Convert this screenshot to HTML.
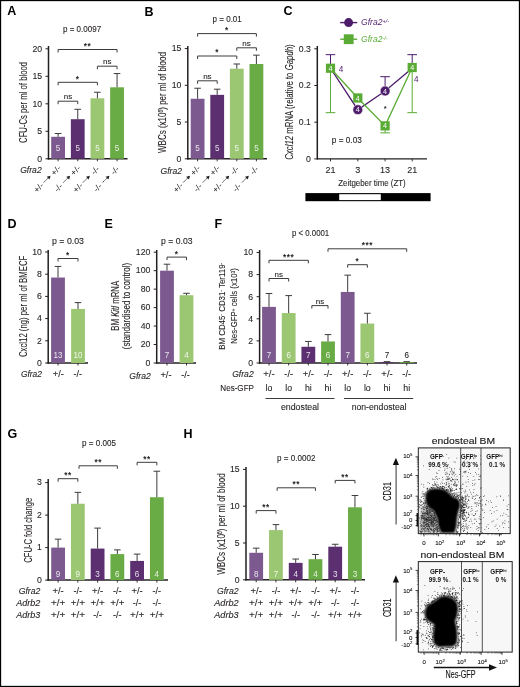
<!DOCTYPE html>
<html><head><meta charset="utf-8"><style>
html,body{margin:0;padding:0;background:#fff;}
body{width:520px;height:687px;overflow:hidden;font-family:"Liberation Sans", sans-serif;}
svg{display:block;will-change:transform;}
</style></head><body>
<svg width="520" height="687" viewBox="0 0 520 687" font-family='"Liberation Sans", sans-serif'>
<rect x="0" y="0" width="520" height="687" fill="#fff"/>
<text x="7.30" y="15.20" font-size="12.5" text-anchor="start" fill="#000" font-weight="bold" >A</text>
<text x="82.05" y="31.60" font-size="8.2" text-anchor="middle" fill="#231f20" textLength="38.1" lengthAdjust="spacingAndGlyphs" stroke="#231f20" stroke-width="0.1" >p = 0.0097</text>
<line x1="48.50" y1="46.00" x2="48.50" y2="159.50" stroke="#231f20" stroke-width="1.5"/>
<line x1="45.50" y1="158.80" x2="48.50" y2="158.80" stroke="#231f20" stroke-width="1"/>
<text x="42.10" y="161.60" font-size="8.7" text-anchor="end" fill="#231f20" stroke="#231f20" stroke-width="0.1" >0</text>
<line x1="45.50" y1="131.30" x2="48.50" y2="131.30" stroke="#231f20" stroke-width="1"/>
<text x="42.10" y="134.10" font-size="8.7" text-anchor="end" fill="#231f20" stroke="#231f20" stroke-width="0.1" >5</text>
<line x1="45.50" y1="103.80" x2="48.50" y2="103.80" stroke="#231f20" stroke-width="1"/>
<text x="42.10" y="106.60" font-size="8.7" text-anchor="end" fill="#231f20" stroke="#231f20" stroke-width="0.1" >10</text>
<line x1="45.50" y1="76.30" x2="48.50" y2="76.30" stroke="#231f20" stroke-width="1"/>
<text x="42.10" y="79.10" font-size="8.7" text-anchor="end" fill="#231f20" stroke="#231f20" stroke-width="0.1" >15</text>
<line x1="45.50" y1="48.80" x2="48.50" y2="48.80" stroke="#231f20" stroke-width="1"/>
<text x="42.10" y="51.60" font-size="8.7" text-anchor="end" fill="#231f20" stroke="#231f20" stroke-width="0.1" >20</text>
<line x1="47.80" y1="158.80" x2="127.50" y2="158.80" stroke="#231f20" stroke-width="1.5"/>
<line x1="58.10" y1="158.80" x2="58.10" y2="161.30" stroke="#231f20" stroke-width="0.9"/>
<line x1="77.75" y1="158.80" x2="77.75" y2="161.30" stroke="#231f20" stroke-width="0.9"/>
<line x1="97.40" y1="158.80" x2="97.40" y2="161.30" stroke="#231f20" stroke-width="0.9"/>
<line x1="117.05" y1="158.80" x2="117.05" y2="161.30" stroke="#231f20" stroke-width="0.9"/>
<rect x="51.20" y="136.80" width="13.80" height="22.00" fill="#7c5a8f"/>
<line x1="58.10" y1="133.50" x2="58.10" y2="136.80" stroke="#3c3c3c" stroke-width="1"/>
<line x1="54.80" y1="133.50" x2="61.40" y2="133.50" stroke="#3c3c3c" stroke-width="1"/>
<text x="58.10" y="151.10" font-size="9.6" text-anchor="middle" fill="#fff" textLength="4.5" lengthAdjust="spacingAndGlyphs" fill-opacity="0.85" >5</text>
<rect x="70.85" y="119.20" width="13.80" height="39.60" fill="#5b2f70"/>
<line x1="77.75" y1="109.30" x2="77.75" y2="119.20" stroke="#3c3c3c" stroke-width="1"/>
<line x1="74.45" y1="109.30" x2="81.05" y2="109.30" stroke="#3c3c3c" stroke-width="1"/>
<text x="77.75" y="151.10" font-size="9.6" text-anchor="middle" fill="#fff" textLength="4.5" lengthAdjust="spacingAndGlyphs" fill-opacity="0.85" >5</text>
<rect x="90.50" y="98.30" width="13.80" height="60.50" fill="#9bc672"/>
<line x1="97.40" y1="92.25" x2="97.40" y2="98.30" stroke="#3c3c3c" stroke-width="1"/>
<line x1="94.10" y1="92.25" x2="100.70" y2="92.25" stroke="#3c3c3c" stroke-width="1"/>
<text x="97.40" y="151.10" font-size="9.6" text-anchor="middle" fill="#fff" textLength="4.5" lengthAdjust="spacingAndGlyphs" fill-opacity="0.85" >5</text>
<rect x="110.15" y="87.30" width="13.80" height="71.50" fill="#69ab44"/>
<line x1="117.05" y1="73.55" x2="117.05" y2="87.30" stroke="#3c3c3c" stroke-width="1"/>
<line x1="113.75" y1="73.55" x2="120.35" y2="73.55" stroke="#3c3c3c" stroke-width="1"/>
<text x="117.05" y="151.10" font-size="9.6" text-anchor="middle" fill="#fff" textLength="4.5" lengthAdjust="spacingAndGlyphs" fill-opacity="0.85" >5</text>
<path d="M58.10 52.50V49.50H117.05V52.50" fill="none" stroke="#3c3c3c" stroke-width="1"/>
<text x="87.58" y="48.90" font-size="8.2" text-anchor="middle" fill="#231f20" font-weight="bold" letter-spacing="0.6">**</text>
<path d="M97.40 69.20V66.20H117.05V69.20" fill="none" stroke="#3c3c3c" stroke-width="1"/>
<text x="107.22" y="64.30" font-size="8" text-anchor="middle" fill="#231f20" stroke="#231f20" stroke-width="0.1" >ns</text>
<path d="M58.10 85.30V82.30H97.40V85.30" fill="none" stroke="#3c3c3c" stroke-width="1"/>
<text x="77.75" y="81.70" font-size="8.2" text-anchor="middle" fill="#231f20" font-weight="bold" letter-spacing="0.6">*</text>
<path d="M58.10 104.20V101.20H77.75V104.20" fill="none" stroke="#3c3c3c" stroke-width="1"/>
<text x="67.92" y="99.30" font-size="8" text-anchor="middle" fill="#231f20" stroke="#231f20" stroke-width="0.1" >ns</text>
<text x="26.90" y="102.45" font-size="10" text-anchor="middle" fill="#231f20" textLength="80.9" lengthAdjust="spacingAndGlyphs" stroke="#231f20" stroke-width="0.1" transform="rotate(-90 26.90 102.45)" >CFU-Cs per ml of blood</text>
<text x="41.70" y="172.90" font-size="8.6" text-anchor="end" fill="#231f20" font-style="italic" stroke="#231f20" stroke-width="0.1" >Gfra2</text>
<g transform="translate(35.80 190.40) rotate(-45)">
<text x="4" y="2.9" font-size="8.4" text-anchor="middle" fill="#231f20" textLength="10.5" lengthAdjust="spacingAndGlyphs">+/-</text>
<line x1="11.2" y1="0" x2="18.5" y2="0" stroke="#231f20" stroke-width="0.85" stroke-dasharray="1.8 0.8"/>
<path d="M17.4 -2L20.8 0L17.4 2Z" fill="#231f20"/>
<text x="28.3" y="2.9" font-size="8.4" text-anchor="middle" fill="#231f20" textLength="10.5" lengthAdjust="spacingAndGlyphs">+/-</text>
</g>
<g transform="translate(55.45 190.40) rotate(-45)">
<text x="4" y="2.9" font-size="8.4" text-anchor="middle" fill="#231f20" textLength="8.2" lengthAdjust="spacingAndGlyphs">-/-</text>
<line x1="11.2" y1="0" x2="18.5" y2="0" stroke="#231f20" stroke-width="0.85" stroke-dasharray="1.8 0.8"/>
<path d="M17.4 -2L20.8 0L17.4 2Z" fill="#231f20"/>
<text x="28.3" y="2.9" font-size="8.4" text-anchor="middle" fill="#231f20" textLength="10.5" lengthAdjust="spacingAndGlyphs">+/-</text>
</g>
<g transform="translate(75.10 190.40) rotate(-45)">
<text x="4" y="2.9" font-size="8.4" text-anchor="middle" fill="#231f20" textLength="10.5" lengthAdjust="spacingAndGlyphs">+/-</text>
<line x1="11.2" y1="0" x2="18.5" y2="0" stroke="#231f20" stroke-width="0.85" stroke-dasharray="1.8 0.8"/>
<path d="M17.4 -2L20.8 0L17.4 2Z" fill="#231f20"/>
<text x="28.3" y="2.9" font-size="8.4" text-anchor="middle" fill="#231f20" textLength="8.2" lengthAdjust="spacingAndGlyphs">-/-</text>
</g>
<g transform="translate(94.75 190.40) rotate(-45)">
<text x="4" y="2.9" font-size="8.4" text-anchor="middle" fill="#231f20" textLength="8.2" lengthAdjust="spacingAndGlyphs">-/-</text>
<line x1="11.2" y1="0" x2="18.5" y2="0" stroke="#231f20" stroke-width="0.85" stroke-dasharray="1.8 0.8"/>
<path d="M17.4 -2L20.8 0L17.4 2Z" fill="#231f20"/>
<text x="28.3" y="2.9" font-size="8.4" text-anchor="middle" fill="#231f20" textLength="8.2" lengthAdjust="spacingAndGlyphs">-/-</text>
</g>
<text x="144.60" y="15.50" font-size="12.5" text-anchor="start" fill="#000" font-weight="bold" >B</text>
<text x="227.20" y="21.60" font-size="8.2" text-anchor="middle" fill="#231f20" textLength="29.2" lengthAdjust="spacingAndGlyphs" stroke="#231f20" stroke-width="0.1" >p = 0.01</text>
<line x1="187.80" y1="46.00" x2="187.80" y2="159.50" stroke="#231f20" stroke-width="1.5"/>
<line x1="184.80" y1="158.80" x2="187.80" y2="158.80" stroke="#231f20" stroke-width="1"/>
<text x="181.40" y="161.60" font-size="8.7" text-anchor="end" fill="#231f20" stroke="#231f20" stroke-width="0.1" >0</text>
<line x1="184.80" y1="122.05" x2="187.80" y2="122.05" stroke="#231f20" stroke-width="1"/>
<text x="181.40" y="124.85" font-size="8.7" text-anchor="end" fill="#231f20" stroke="#231f20" stroke-width="0.1" >5</text>
<line x1="184.80" y1="85.30" x2="187.80" y2="85.30" stroke="#231f20" stroke-width="1"/>
<text x="181.40" y="88.10" font-size="8.7" text-anchor="end" fill="#231f20" stroke="#231f20" stroke-width="0.1" >10</text>
<line x1="184.80" y1="48.55" x2="187.80" y2="48.55" stroke="#231f20" stroke-width="1"/>
<text x="181.40" y="51.35" font-size="8.7" text-anchor="end" fill="#231f20" stroke="#231f20" stroke-width="0.1" >15</text>
<line x1="187.10" y1="158.80" x2="267.00" y2="158.80" stroke="#231f20" stroke-width="1.5"/>
<line x1="197.60" y1="158.80" x2="197.60" y2="161.30" stroke="#231f20" stroke-width="0.9"/>
<line x1="217.20" y1="158.80" x2="217.20" y2="161.30" stroke="#231f20" stroke-width="0.9"/>
<line x1="236.80" y1="158.80" x2="236.80" y2="161.30" stroke="#231f20" stroke-width="0.9"/>
<line x1="256.40" y1="158.80" x2="256.40" y2="161.30" stroke="#231f20" stroke-width="0.9"/>
<rect x="190.70" y="98.75" width="13.80" height="60.05" fill="#7c5a8f"/>
<line x1="197.60" y1="88.24" x2="197.60" y2="98.75" stroke="#3c3c3c" stroke-width="1"/>
<line x1="194.30" y1="88.24" x2="200.90" y2="88.24" stroke="#3c3c3c" stroke-width="1"/>
<text x="197.60" y="151.10" font-size="9.6" text-anchor="middle" fill="#fff" textLength="4.5" lengthAdjust="spacingAndGlyphs" fill-opacity="0.85" >5</text>
<rect x="210.30" y="94.86" width="13.80" height="63.94" fill="#5b2f70"/>
<line x1="217.20" y1="89.20" x2="217.20" y2="94.86" stroke="#3c3c3c" stroke-width="1"/>
<line x1="213.90" y1="89.20" x2="220.50" y2="89.20" stroke="#3c3c3c" stroke-width="1"/>
<text x="217.20" y="151.10" font-size="9.6" text-anchor="middle" fill="#fff" textLength="4.5" lengthAdjust="spacingAndGlyphs" fill-opacity="0.85" >5</text>
<rect x="229.90" y="68.69" width="13.80" height="90.11" fill="#9bc672"/>
<line x1="236.80" y1="63.99" x2="236.80" y2="68.69" stroke="#3c3c3c" stroke-width="1"/>
<line x1="233.50" y1="63.99" x2="240.10" y2="63.99" stroke="#3c3c3c" stroke-width="1"/>
<text x="236.80" y="151.10" font-size="9.6" text-anchor="middle" fill="#fff" textLength="4.5" lengthAdjust="spacingAndGlyphs" fill-opacity="0.85" >5</text>
<rect x="249.50" y="63.99" width="13.80" height="94.81" fill="#69ab44"/>
<line x1="256.40" y1="55.17" x2="256.40" y2="63.99" stroke="#3c3c3c" stroke-width="1"/>
<line x1="253.10" y1="55.17" x2="259.70" y2="55.17" stroke="#3c3c3c" stroke-width="1"/>
<text x="256.40" y="151.10" font-size="9.6" text-anchor="middle" fill="#fff" textLength="4.5" lengthAdjust="spacingAndGlyphs" fill-opacity="0.85" >5</text>
<path d="M197.60 36.60V33.60H256.40V36.60" fill="none" stroke="#3c3c3c" stroke-width="1"/>
<text x="227.00" y="33.00" font-size="8.2" text-anchor="middle" fill="#231f20" font-weight="bold" letter-spacing="0.6">*</text>
<path d="M236.80 50.80V47.80H256.40V50.80" fill="none" stroke="#3c3c3c" stroke-width="1"/>
<text x="246.60" y="45.90" font-size="8" text-anchor="middle" fill="#231f20" stroke="#231f20" stroke-width="0.1" >ns</text>
<path d="M197.60 59.00V56.00H236.80V59.00" fill="none" stroke="#3c3c3c" stroke-width="1"/>
<text x="217.20" y="55.40" font-size="8.2" text-anchor="middle" fill="#231f20" font-weight="bold" letter-spacing="0.6">*</text>
<path d="M197.60 83.80V80.80H217.20V83.80" fill="none" stroke="#3c3c3c" stroke-width="1"/>
<text x="207.40" y="78.90" font-size="8" text-anchor="middle" fill="#231f20" stroke="#231f20" stroke-width="0.1" >ns</text>
<text x="166.00" y="102.50" font-size="10" text-anchor="middle" fill="#231f20" textLength="100.8" lengthAdjust="spacingAndGlyphs" stroke="#231f20" stroke-width="0.1" transform="rotate(-90 166.00 102.50)" >WBCs (x10<tspan dy="-3" font-size="6.5">6</tspan><tspan dy="3">) per ml of blood</tspan></text>
<text x="182.00" y="173.90" font-size="8.6" text-anchor="end" fill="#231f20" font-style="italic" stroke="#231f20" stroke-width="0.1" >Gfra2</text>
<g transform="translate(175.30 190.40) rotate(-45)">
<text x="4" y="2.9" font-size="8.4" text-anchor="middle" fill="#231f20" textLength="10.5" lengthAdjust="spacingAndGlyphs">+/-</text>
<line x1="11.2" y1="0" x2="18.5" y2="0" stroke="#231f20" stroke-width="0.85" stroke-dasharray="1.8 0.8"/>
<path d="M17.4 -2L20.8 0L17.4 2Z" fill="#231f20"/>
<text x="28.3" y="2.9" font-size="8.4" text-anchor="middle" fill="#231f20" textLength="10.5" lengthAdjust="spacingAndGlyphs">+/-</text>
</g>
<g transform="translate(194.90 190.40) rotate(-45)">
<text x="4" y="2.9" font-size="8.4" text-anchor="middle" fill="#231f20" textLength="8.2" lengthAdjust="spacingAndGlyphs">-/-</text>
<line x1="11.2" y1="0" x2="18.5" y2="0" stroke="#231f20" stroke-width="0.85" stroke-dasharray="1.8 0.8"/>
<path d="M17.4 -2L20.8 0L17.4 2Z" fill="#231f20"/>
<text x="28.3" y="2.9" font-size="8.4" text-anchor="middle" fill="#231f20" textLength="10.5" lengthAdjust="spacingAndGlyphs">+/-</text>
</g>
<g transform="translate(214.50 190.40) rotate(-45)">
<text x="4" y="2.9" font-size="8.4" text-anchor="middle" fill="#231f20" textLength="10.5" lengthAdjust="spacingAndGlyphs">+/-</text>
<line x1="11.2" y1="0" x2="18.5" y2="0" stroke="#231f20" stroke-width="0.85" stroke-dasharray="1.8 0.8"/>
<path d="M17.4 -2L20.8 0L17.4 2Z" fill="#231f20"/>
<text x="28.3" y="2.9" font-size="8.4" text-anchor="middle" fill="#231f20" textLength="8.2" lengthAdjust="spacingAndGlyphs">-/-</text>
</g>
<g transform="translate(234.10 190.40) rotate(-45)">
<text x="4" y="2.9" font-size="8.4" text-anchor="middle" fill="#231f20" textLength="8.2" lengthAdjust="spacingAndGlyphs">-/-</text>
<line x1="11.2" y1="0" x2="18.5" y2="0" stroke="#231f20" stroke-width="0.85" stroke-dasharray="1.8 0.8"/>
<path d="M17.4 -2L20.8 0L17.4 2Z" fill="#231f20"/>
<text x="28.3" y="2.9" font-size="8.4" text-anchor="middle" fill="#231f20" textLength="8.2" lengthAdjust="spacingAndGlyphs">-/-</text>
</g>
<text x="283.60" y="15.30" font-size="12.5" text-anchor="start" fill="#000" font-weight="bold" >C</text>
<line x1="317.30" y1="46.00" x2="317.30" y2="159.60" stroke="#231f20" stroke-width="1.5"/>
<line x1="314.30" y1="158.90" x2="317.30" y2="158.90" stroke="#231f20" stroke-width="1"/>
<text x="310.90" y="161.70" font-size="8.7" text-anchor="end" fill="#231f20" stroke="#231f20" stroke-width="0.1" >0</text>
<line x1="314.30" y1="122.20" x2="317.30" y2="122.20" stroke="#231f20" stroke-width="1"/>
<text x="310.90" y="125.00" font-size="8.7" text-anchor="end" fill="#231f20" stroke="#231f20" stroke-width="0.1" >0.1</text>
<line x1="314.30" y1="85.50" x2="317.30" y2="85.50" stroke="#231f20" stroke-width="1"/>
<text x="310.90" y="88.30" font-size="8.7" text-anchor="end" fill="#231f20" stroke="#231f20" stroke-width="0.1" >0.2</text>
<line x1="314.30" y1="48.80" x2="317.30" y2="48.80" stroke="#231f20" stroke-width="1"/>
<text x="310.90" y="51.60" font-size="8.7" text-anchor="end" fill="#231f20" stroke="#231f20" stroke-width="0.1" >0.3</text>
<line x1="317.30" y1="158.90" x2="427.00" y2="158.90" stroke="#231f20" stroke-width="1.2"/>
<line x1="330.50" y1="158.90" x2="330.50" y2="161.40" stroke="#231f20" stroke-width="0.9"/>
<line x1="357.80" y1="158.90" x2="357.80" y2="161.40" stroke="#231f20" stroke-width="0.9"/>
<line x1="385.10" y1="158.90" x2="385.10" y2="161.40" stroke="#231f20" stroke-width="0.9"/>
<line x1="412.20" y1="158.90" x2="412.20" y2="161.40" stroke="#231f20" stroke-width="0.9"/>
<text x="330.50" y="173.00" font-size="9" text-anchor="middle" fill="#231f20" stroke="#231f20" stroke-width="0.1" >21</text>
<text x="357.80" y="173.00" font-size="9" text-anchor="middle" fill="#231f20" stroke="#231f20" stroke-width="0.1" >3</text>
<text x="385.10" y="173.00" font-size="9" text-anchor="middle" fill="#231f20" stroke="#231f20" stroke-width="0.1" >13</text>
<text x="412.20" y="173.00" font-size="9" text-anchor="middle" fill="#231f20" stroke="#231f20" stroke-width="0.1" >21</text>
<text x="372.00" y="186.40" font-size="9" text-anchor="middle" fill="#231f20" textLength="67.5" lengthAdjust="spacingAndGlyphs" stroke="#231f20" stroke-width="0.1" >Zeitgeber time (ZT)</text>
<rect x="305.40" y="193.10" width="125.20" height="8.10" fill="#000"/>
<rect x="339.20" y="194.20" width="41.60" height="5.90" fill="#fff"/>
<text x="346.80" y="143.10" font-size="8.2" text-anchor="middle" fill="#231f20" textLength="30" lengthAdjust="spacingAndGlyphs" stroke="#231f20" stroke-width="0.1" >p = 0.03</text>
<text x="385.10" y="110.80" font-size="7.5" text-anchor="middle" fill="#231f20" font-weight="bold" >*</text>
<line x1="330.50" y1="112.66" x2="330.50" y2="68.25" stroke="#5aab35" stroke-width="1"/>
<line x1="325.70" y1="112.66" x2="335.30" y2="112.66" stroke="#5aab35" stroke-width="1"/>
<line x1="412.20" y1="112.66" x2="412.20" y2="67.52" stroke="#5aab35" stroke-width="1"/>
<line x1="407.40" y1="112.66" x2="417.00" y2="112.66" stroke="#5aab35" stroke-width="1"/>
<line x1="385.10" y1="132.84" x2="385.10" y2="125.87" stroke="#5aab35" stroke-width="1"/>
<line x1="380.30" y1="132.84" x2="389.90" y2="132.84" stroke="#5aab35" stroke-width="1"/>
<line x1="330.50" y1="54.67" x2="330.50" y2="68.25" stroke="#4d1c6b" stroke-width="1"/>
<line x1="325.70" y1="54.67" x2="335.30" y2="54.67" stroke="#4d1c6b" stroke-width="1"/>
<line x1="412.20" y1="54.67" x2="412.20" y2="68.25" stroke="#4d1c6b" stroke-width="1"/>
<line x1="407.40" y1="54.67" x2="417.00" y2="54.67" stroke="#4d1c6b" stroke-width="1"/>
<line x1="385.10" y1="76.69" x2="385.10" y2="91.01" stroke="#4d1c6b" stroke-width="1"/>
<line x1="380.30" y1="76.69" x2="389.90" y2="76.69" stroke="#4d1c6b" stroke-width="1"/>
<polyline points="330.50,68.25 357.80,109.72 385.10,91.01 412.20,68.25" fill="none" stroke="#4d1c6b" stroke-width="1.3"/>
<polyline points="330.50,68.25 357.80,97.98 385.10,125.87 412.20,67.52" fill="none" stroke="#5aab35" stroke-width="1.3"/>
<circle cx="357.80" cy="109.72" r="4.9" fill="#4d1c6b" stroke="#fff" stroke-width="0.5"/>
<text x="357.80" y="112.32" font-size="7.2" text-anchor="middle" fill="#fff" >4</text>
<circle cx="385.10" cy="91.01" r="4.9" fill="#4d1c6b" stroke="#fff" stroke-width="0.5"/>
<text x="385.10" y="93.61" font-size="7.2" text-anchor="middle" fill="#fff" >4</text>
<rect x="325.90" y="63.65" width="9.20" height="9.20" fill="#5aab35"/>
<text x="330.50" y="70.85" font-size="7.2" text-anchor="middle" fill="#fff" >4</text>
<rect x="353.20" y="93.38" width="9.20" height="9.20" fill="#5aab35"/>
<text x="357.80" y="100.58" font-size="7.2" text-anchor="middle" fill="#fff" >4</text>
<rect x="380.50" y="121.27" width="9.20" height="9.20" fill="#5aab35"/>
<text x="385.10" y="128.47" font-size="7.2" text-anchor="middle" fill="#fff" >4</text>
<rect x="407.60" y="62.92" width="9.20" height="9.20" fill="#5aab35"/>
<text x="412.20" y="70.12" font-size="7.2" text-anchor="middle" fill="#fff" >4</text>
<text x="341.00" y="72.00" font-size="8.2" text-anchor="middle" fill="#4d1c6b" >4</text>
<text x="416.40" y="81.90" font-size="8.2" text-anchor="middle" fill="#4d1c6b" >4</text>
<line x1="340.20" y1="22.60" x2="357.20" y2="22.60" stroke="#4d1c6b" stroke-width="1.4"/>
<circle cx="348.6" cy="22.6" r="4.5" fill="#4d1c6b"/>
<text x="361.00" y="25.40" font-size="8.6" text-anchor="start" fill="#4d1c6b" font-style="italic" >Gfra2<tspan dy="-2.8" font-size="5.4">+/-</tspan></text>
<line x1="340.20" y1="39.20" x2="357.20" y2="39.20" stroke="#5aab35" stroke-width="1.4"/>
<rect x="343.80" y="34.30" width="9.80" height="9.80" fill="#5aab35"/>
<text x="361.00" y="42.30" font-size="8.6" text-anchor="start" fill="#5aab35" font-style="italic" >Gfra2<tspan dy="-2.8" font-size="5.4">-/-</tspan></text>
<text x="293.10" y="102.05" font-size="10" text-anchor="middle" fill="#231f20" textLength="115.5" lengthAdjust="spacingAndGlyphs" stroke="#231f20" stroke-width="0.1" transform="rotate(-90 293.10 102.05)" ><tspan font-style="italic">Cxcl12</tspan> mRNA (relative to <tspan font-style="italic">Gapdh</tspan>)</text>
<text x="7.50" y="228.00" font-size="12.5" text-anchor="start" fill="#000" font-weight="bold" >D</text>
<text x="68.00" y="243.90" font-size="8.2" text-anchor="middle" fill="#231f20" textLength="32" lengthAdjust="spacingAndGlyphs" stroke="#231f20" stroke-width="0.1" >p = 0.03</text>
<line x1="48.20" y1="250.00" x2="48.20" y2="363.70" stroke="#231f20" stroke-width="1.5"/>
<line x1="45.20" y1="363.00" x2="48.20" y2="363.00" stroke="#231f20" stroke-width="1"/>
<text x="41.80" y="365.80" font-size="8.7" text-anchor="end" fill="#231f20" stroke="#231f20" stroke-width="0.1" >0</text>
<line x1="45.20" y1="340.80" x2="48.20" y2="340.80" stroke="#231f20" stroke-width="1"/>
<text x="41.80" y="343.60" font-size="8.7" text-anchor="end" fill="#231f20" stroke="#231f20" stroke-width="0.1" >2</text>
<line x1="45.20" y1="318.60" x2="48.20" y2="318.60" stroke="#231f20" stroke-width="1"/>
<text x="41.80" y="321.40" font-size="8.7" text-anchor="end" fill="#231f20" stroke="#231f20" stroke-width="0.1" >4</text>
<line x1="45.20" y1="296.40" x2="48.20" y2="296.40" stroke="#231f20" stroke-width="1"/>
<text x="41.80" y="299.20" font-size="8.7" text-anchor="end" fill="#231f20" stroke="#231f20" stroke-width="0.1" >6</text>
<line x1="45.20" y1="274.20" x2="48.20" y2="274.20" stroke="#231f20" stroke-width="1"/>
<text x="41.80" y="277.00" font-size="8.7" text-anchor="end" fill="#231f20" stroke="#231f20" stroke-width="0.1" >8</text>
<line x1="45.20" y1="252.00" x2="48.20" y2="252.00" stroke="#231f20" stroke-width="1"/>
<text x="41.80" y="254.80" font-size="8.7" text-anchor="end" fill="#231f20" stroke="#231f20" stroke-width="0.1" >10</text>
<line x1="47.50" y1="363.00" x2="88.00" y2="363.00" stroke="#231f20" stroke-width="1.5"/>
<line x1="58.00" y1="363.00" x2="58.00" y2="365.50" stroke="#231f20" stroke-width="0.9"/>
<line x1="78.00" y1="363.00" x2="78.00" y2="365.50" stroke="#231f20" stroke-width="0.9"/>
<rect x="51.10" y="277.53" width="13.80" height="85.47" fill="#7c5a8f"/>
<line x1="58.00" y1="266.43" x2="58.00" y2="277.53" stroke="#3c3c3c" stroke-width="1"/>
<line x1="54.70" y1="266.43" x2="61.30" y2="266.43" stroke="#3c3c3c" stroke-width="1"/>
<text x="58.00" y="357.70" font-size="9.6" text-anchor="middle" fill="#fff" textLength="9.0" lengthAdjust="spacingAndGlyphs" fill-opacity="0.85" >13</text>
<rect x="71.10" y="308.94" width="13.80" height="54.06" fill="#9bc672"/>
<line x1="78.00" y1="302.62" x2="78.00" y2="308.94" stroke="#3c3c3c" stroke-width="1"/>
<line x1="74.70" y1="302.62" x2="81.30" y2="302.62" stroke="#3c3c3c" stroke-width="1"/>
<text x="78.00" y="357.70" font-size="9.6" text-anchor="middle" fill="#fff" textLength="9.0" lengthAdjust="spacingAndGlyphs" fill-opacity="0.85" >10</text>
<path d="M58.00 261.50V258.50H78.00V261.50" fill="none" stroke="#3c3c3c" stroke-width="1"/>
<text x="68.00" y="257.90" font-size="8.2" text-anchor="middle" fill="#231f20" font-weight="bold" letter-spacing="0.6">*</text>
<text x="26.60" y="306.40" font-size="10" text-anchor="middle" fill="#231f20" textLength="101.2" lengthAdjust="spacingAndGlyphs" stroke="#231f20" stroke-width="0.1" transform="rotate(-90 26.60 306.40)" >Cxcl12 (ng) per ml of BMECF</text>
<text x="41.90" y="376.80" font-size="8.6" text-anchor="end" fill="#231f20" font-style="italic" textLength="21" lengthAdjust="spacingAndGlyphs" stroke="#231f20" stroke-width="0.1" >Gfra2</text>
<text x="58.30" y="376.80" font-size="8.8" text-anchor="middle" fill="#231f20" textLength="11" lengthAdjust="spacingAndGlyphs" stroke="#231f20" stroke-width="0.1" >+/-</text>
<text x="77.80" y="376.80" font-size="8.8" text-anchor="middle" fill="#231f20" textLength="8.5" lengthAdjust="spacingAndGlyphs" stroke="#231f20" stroke-width="0.1" >-/-</text>
<text x="104.50" y="228.00" font-size="12.5" text-anchor="start" fill="#000" font-weight="bold" >E</text>
<text x="176.80" y="243.50" font-size="8.2" text-anchor="middle" fill="#231f20" textLength="31.5" lengthAdjust="spacingAndGlyphs" stroke="#231f20" stroke-width="0.1" >p = 0.03</text>
<line x1="156.70" y1="250.00" x2="156.70" y2="363.70" stroke="#231f20" stroke-width="1.5"/>
<line x1="153.70" y1="363.00" x2="156.70" y2="363.00" stroke="#231f20" stroke-width="1"/>
<text x="150.30" y="365.80" font-size="8.7" text-anchor="end" fill="#231f20" stroke="#231f20" stroke-width="0.1" >0</text>
<line x1="153.70" y1="344.53" x2="156.70" y2="344.53" stroke="#231f20" stroke-width="1"/>
<text x="150.30" y="347.33" font-size="8.7" text-anchor="end" fill="#231f20" stroke="#231f20" stroke-width="0.1" >20</text>
<line x1="153.70" y1="326.07" x2="156.70" y2="326.07" stroke="#231f20" stroke-width="1"/>
<text x="150.30" y="328.87" font-size="8.7" text-anchor="end" fill="#231f20" stroke="#231f20" stroke-width="0.1" >40</text>
<line x1="153.70" y1="307.60" x2="156.70" y2="307.60" stroke="#231f20" stroke-width="1"/>
<text x="150.30" y="310.40" font-size="8.7" text-anchor="end" fill="#231f20" stroke="#231f20" stroke-width="0.1" >60</text>
<line x1="153.70" y1="289.14" x2="156.70" y2="289.14" stroke="#231f20" stroke-width="1"/>
<text x="150.30" y="291.94" font-size="8.7" text-anchor="end" fill="#231f20" stroke="#231f20" stroke-width="0.1" >80</text>
<line x1="153.70" y1="270.67" x2="156.70" y2="270.67" stroke="#231f20" stroke-width="1"/>
<text x="150.30" y="273.47" font-size="8.7" text-anchor="end" fill="#231f20" stroke="#231f20" stroke-width="0.1" >100</text>
<line x1="153.70" y1="252.20" x2="156.70" y2="252.20" stroke="#231f20" stroke-width="1"/>
<text x="150.30" y="255.00" font-size="8.7" text-anchor="end" fill="#231f20" stroke="#231f20" stroke-width="0.1" >120</text>
<line x1="156.00" y1="363.00" x2="196.00" y2="363.00" stroke="#231f20" stroke-width="1.5"/>
<line x1="167.00" y1="363.00" x2="167.00" y2="365.50" stroke="#231f20" stroke-width="0.9"/>
<line x1="186.50" y1="363.00" x2="186.50" y2="365.50" stroke="#231f20" stroke-width="0.9"/>
<rect x="160.10" y="270.67" width="13.80" height="92.33" fill="#7c5a8f"/>
<line x1="167.00" y1="264.21" x2="167.00" y2="270.67" stroke="#3c3c3c" stroke-width="1"/>
<line x1="163.70" y1="264.21" x2="170.30" y2="264.21" stroke="#3c3c3c" stroke-width="1"/>
<text x="167.00" y="357.70" font-size="9.6" text-anchor="middle" fill="#fff" textLength="4.5" lengthAdjust="spacingAndGlyphs" fill-opacity="0.85" >7</text>
<rect x="179.60" y="295.23" width="13.80" height="67.77" fill="#9bc672"/>
<line x1="186.50" y1="293.29" x2="186.50" y2="295.23" stroke="#3c3c3c" stroke-width="1"/>
<line x1="183.20" y1="293.29" x2="189.80" y2="293.29" stroke="#3c3c3c" stroke-width="1"/>
<text x="186.50" y="357.70" font-size="9.6" text-anchor="middle" fill="#fff" textLength="4.5" lengthAdjust="spacingAndGlyphs" fill-opacity="0.85" >4</text>
<path d="M167.00 260.10V257.10H186.50V260.10" fill="none" stroke="#3c3c3c" stroke-width="1"/>
<text x="176.75" y="256.50" font-size="8.2" text-anchor="middle" fill="#231f20" font-weight="bold" letter-spacing="0.6">*</text>
<text x="118.80" y="305.75" font-size="10" text-anchor="middle" fill="#231f20" textLength="50" lengthAdjust="spacingAndGlyphs" stroke="#231f20" stroke-width="0.1" transform="rotate(-90 118.80 305.75)" >BM <tspan font-style="italic">Kitl</tspan> mRNA</text>
<text x="130.20" y="306.00" font-size="10" text-anchor="middle" fill="#231f20" textLength="86.5" lengthAdjust="spacingAndGlyphs" stroke="#231f20" stroke-width="0.1" transform="rotate(-90 130.20 306.00)" >(standardised to control)</text>
<text x="150.80" y="378.50" font-size="8.6" text-anchor="end" fill="#231f20" font-style="italic" stroke="#231f20" stroke-width="0.1" >Gfra2</text>
<text x="166.00" y="378.30" font-size="8.8" text-anchor="middle" fill="#231f20" textLength="11" lengthAdjust="spacingAndGlyphs" stroke="#231f20" stroke-width="0.1" >+/-</text>
<text x="185.50" y="378.30" font-size="8.8" text-anchor="middle" fill="#231f20" textLength="8.5" lengthAdjust="spacingAndGlyphs" stroke="#231f20" stroke-width="0.1" >-/-</text>
<text x="214.50" y="228.00" font-size="12.5" text-anchor="start" fill="#000" font-weight="bold" >F</text>
<text x="310.60" y="235.60" font-size="8.2" text-anchor="middle" fill="#231f20" textLength="37.2" lengthAdjust="spacingAndGlyphs" stroke="#231f20" stroke-width="0.1" >p &lt; 0.0001</text>
<line x1="259.60" y1="250.00" x2="259.60" y2="363.70" stroke="#231f20" stroke-width="1.5"/>
<line x1="256.60" y1="363.00" x2="259.60" y2="363.00" stroke="#231f20" stroke-width="1"/>
<text x="253.20" y="365.80" font-size="8.7" text-anchor="end" fill="#231f20" stroke="#231f20" stroke-width="0.1" >0</text>
<line x1="256.60" y1="340.90" x2="259.60" y2="340.90" stroke="#231f20" stroke-width="1"/>
<text x="253.20" y="343.70" font-size="8.7" text-anchor="end" fill="#231f20" stroke="#231f20" stroke-width="0.1" >2</text>
<line x1="256.60" y1="318.80" x2="259.60" y2="318.80" stroke="#231f20" stroke-width="1"/>
<text x="253.20" y="321.60" font-size="8.7" text-anchor="end" fill="#231f20" stroke="#231f20" stroke-width="0.1" >4</text>
<line x1="256.60" y1="296.70" x2="259.60" y2="296.70" stroke="#231f20" stroke-width="1"/>
<text x="253.20" y="299.50" font-size="8.7" text-anchor="end" fill="#231f20" stroke="#231f20" stroke-width="0.1" >6</text>
<line x1="256.60" y1="274.60" x2="259.60" y2="274.60" stroke="#231f20" stroke-width="1"/>
<text x="253.20" y="277.40" font-size="8.7" text-anchor="end" fill="#231f20" stroke="#231f20" stroke-width="0.1" >8</text>
<line x1="256.60" y1="252.50" x2="259.60" y2="252.50" stroke="#231f20" stroke-width="1"/>
<text x="253.20" y="255.30" font-size="8.7" text-anchor="end" fill="#231f20" stroke="#231f20" stroke-width="0.1" >10</text>
<line x1="258.90" y1="363.00" x2="417.00" y2="363.00" stroke="#231f20" stroke-width="1.5"/>
<line x1="269.00" y1="363.00" x2="269.00" y2="365.50" stroke="#231f20" stroke-width="0.9"/>
<line x1="288.67" y1="363.00" x2="288.67" y2="365.50" stroke="#231f20" stroke-width="0.9"/>
<line x1="308.34" y1="363.00" x2="308.34" y2="365.50" stroke="#231f20" stroke-width="0.9"/>
<line x1="328.01" y1="363.00" x2="328.01" y2="365.50" stroke="#231f20" stroke-width="0.9"/>
<line x1="347.68" y1="363.00" x2="347.68" y2="365.50" stroke="#231f20" stroke-width="0.9"/>
<line x1="367.35" y1="363.00" x2="367.35" y2="365.50" stroke="#231f20" stroke-width="0.9"/>
<line x1="387.02" y1="363.00" x2="387.02" y2="365.50" stroke="#231f20" stroke-width="0.9"/>
<line x1="406.69" y1="363.00" x2="406.69" y2="365.50" stroke="#231f20" stroke-width="0.9"/>
<rect x="262.10" y="306.87" width="13.80" height="56.13" fill="#7c5a8f"/>
<line x1="269.00" y1="293.50" x2="269.00" y2="306.87" stroke="#3c3c3c" stroke-width="1"/>
<line x1="265.70" y1="293.50" x2="272.30" y2="293.50" stroke="#3c3c3c" stroke-width="1"/>
<text x="269.00" y="357.70" font-size="9.6" text-anchor="middle" fill="#fff" textLength="4.5" lengthAdjust="spacingAndGlyphs" fill-opacity="0.85" >7</text>
<rect x="281.77" y="313.05" width="13.80" height="49.95" fill="#9bc672"/>
<line x1="288.67" y1="295.60" x2="288.67" y2="313.05" stroke="#3c3c3c" stroke-width="1"/>
<line x1="285.37" y1="295.60" x2="291.97" y2="295.60" stroke="#3c3c3c" stroke-width="1"/>
<text x="288.67" y="357.70" font-size="9.6" text-anchor="middle" fill="#fff" textLength="4.5" lengthAdjust="spacingAndGlyphs" fill-opacity="0.85" >6</text>
<rect x="301.44" y="346.76" width="13.80" height="16.24" fill="#5b2f70"/>
<line x1="308.34" y1="341.45" x2="308.34" y2="346.76" stroke="#3c3c3c" stroke-width="1"/>
<line x1="305.04" y1="341.45" x2="311.64" y2="341.45" stroke="#3c3c3c" stroke-width="1"/>
<text x="308.34" y="357.70" font-size="9.6" text-anchor="middle" fill="#fff" textLength="4.5" lengthAdjust="spacingAndGlyphs" fill-opacity="0.85" >7</text>
<rect x="321.11" y="341.45" width="13.80" height="21.55" fill="#69ab44"/>
<line x1="328.01" y1="334.60" x2="328.01" y2="341.45" stroke="#3c3c3c" stroke-width="1"/>
<line x1="324.71" y1="334.60" x2="331.31" y2="334.60" stroke="#3c3c3c" stroke-width="1"/>
<text x="328.01" y="357.70" font-size="9.6" text-anchor="middle" fill="#fff" textLength="4.5" lengthAdjust="spacingAndGlyphs" fill-opacity="0.85" >6</text>
<rect x="340.78" y="291.95" width="13.80" height="71.05" fill="#7c5a8f"/>
<line x1="347.68" y1="275.15" x2="347.68" y2="291.95" stroke="#3c3c3c" stroke-width="1"/>
<line x1="344.38" y1="275.15" x2="350.98" y2="275.15" stroke="#3c3c3c" stroke-width="1"/>
<text x="347.68" y="357.70" font-size="9.6" text-anchor="middle" fill="#fff" textLength="4.5" lengthAdjust="spacingAndGlyphs" fill-opacity="0.85" >7</text>
<rect x="360.45" y="323.55" width="13.80" height="39.45" fill="#9bc672"/>
<line x1="367.35" y1="313.27" x2="367.35" y2="323.55" stroke="#3c3c3c" stroke-width="1"/>
<line x1="364.05" y1="313.27" x2="370.65" y2="313.27" stroke="#3c3c3c" stroke-width="1"/>
<text x="367.35" y="357.70" font-size="9.6" text-anchor="middle" fill="#fff" textLength="4.5" lengthAdjust="spacingAndGlyphs" fill-opacity="0.85" >6</text>
<rect x="380.12" y="362.12" width="13.80" height="0.88" fill="#5b2f70"/>
<line x1="387.02" y1="361.67" x2="387.02" y2="362.12" stroke="#3c3c3c" stroke-width="1"/>
<line x1="383.72" y1="361.67" x2="390.32" y2="361.67" stroke="#3c3c3c" stroke-width="1"/>
<rect x="399.79" y="362.12" width="13.80" height="0.88" fill="#69ab44"/>
<line x1="406.69" y1="361.67" x2="406.69" y2="362.12" stroke="#3c3c3c" stroke-width="1"/>
<line x1="403.39" y1="361.67" x2="409.99" y2="361.67" stroke="#3c3c3c" stroke-width="1"/>
<text x="387.02" y="357.70" font-size="9.6" text-anchor="middle" fill="#231f20" textLength="4.5" lengthAdjust="spacingAndGlyphs" stroke="#231f20" stroke-width="0.1" >7</text>
<text x="406.69" y="357.70" font-size="9.6" text-anchor="middle" fill="#231f20" textLength="4.5" lengthAdjust="spacingAndGlyphs" stroke="#231f20" stroke-width="0.1" >6</text>
<path d="M269.00 263.30V260.30H308.34V263.30" fill="none" stroke="#3c3c3c" stroke-width="1"/>
<text x="288.67" y="259.70" font-size="8.2" text-anchor="middle" fill="#231f20" font-weight="bold" letter-spacing="0.6">***</text>
<path d="M269.00 281.50V278.50H288.67V281.50" fill="none" stroke="#3c3c3c" stroke-width="1"/>
<text x="278.84" y="276.60" font-size="8" text-anchor="middle" fill="#231f20" stroke="#231f20" stroke-width="0.1" >ns</text>
<path d="M311.84 308.60V305.60H328.01V308.60" fill="none" stroke="#3c3c3c" stroke-width="1"/>
<text x="319.93" y="303.70" font-size="8" text-anchor="middle" fill="#231f20" stroke="#231f20" stroke-width="0.1" >ns</text>
<path d="M328.01 251.80V248.80H406.69V251.80" fill="none" stroke="#3c3c3c" stroke-width="1"/>
<text x="367.35" y="248.20" font-size="8.2" text-anchor="middle" fill="#231f20" font-weight="bold" letter-spacing="0.6">***</text>
<path d="M347.68 267.70V264.70H367.35V267.70" fill="none" stroke="#3c3c3c" stroke-width="1"/>
<text x="357.51" y="264.10" font-size="8.2" text-anchor="middle" fill="#231f20" font-weight="bold" letter-spacing="0.6">*</text>
<text x="225.30" y="306.30" font-size="9.6" text-anchor="middle" fill="#231f20" textLength="87" lengthAdjust="spacingAndGlyphs" stroke="#231f20" stroke-width="0.1" transform="rotate(-90 225.30 306.30)" >BM CD45<tspan dy="-2.8" font-size="6">-</tspan><tspan dy="2.8"> CD31</tspan><tspan dy="-2.8" font-size="6">-</tspan><tspan dy="2.8"> Ter119</tspan><tspan dy="-2.8" font-size="6">-</tspan></text>
<text x="237.40" y="306.00" font-size="9.6" text-anchor="middle" fill="#231f20" textLength="75.5" lengthAdjust="spacingAndGlyphs" stroke="#231f20" stroke-width="0.1" transform="rotate(-90 237.40 306.00)" >Nes-GFP<tspan dy="-2.8" font-size="6">+</tspan><tspan dy="2.8"> cells (x10</tspan><tspan dy="-2.8" font-size="6">3</tspan><tspan dy="2.8">)</tspan></text>
<text x="253.70" y="377.00" font-size="8.6" text-anchor="end" fill="#231f20" font-style="italic" stroke="#231f20" stroke-width="0.1" >Gfra2</text>
<text x="254.00" y="390.80" font-size="8.8" text-anchor="end" fill="#231f20" textLength="33.7" lengthAdjust="spacingAndGlyphs" stroke="#231f20" stroke-width="0.1" >Nes-GFP</text>
<text x="269.00" y="376.80" font-size="8.8" text-anchor="middle" fill="#231f20" textLength="11.3" lengthAdjust="spacingAndGlyphs" stroke="#231f20" stroke-width="0.1" >+/-</text>
<text x="269.00" y="390.80" font-size="8.8" text-anchor="middle" fill="#231f20" stroke="#231f20" stroke-width="0.1" >lo</text>
<text x="288.67" y="376.80" font-size="8.8" text-anchor="middle" fill="#231f20" textLength="8.6" lengthAdjust="spacingAndGlyphs" stroke="#231f20" stroke-width="0.1" >-/-</text>
<text x="288.67" y="390.80" font-size="8.8" text-anchor="middle" fill="#231f20" stroke="#231f20" stroke-width="0.1" >lo</text>
<text x="308.34" y="376.80" font-size="8.8" text-anchor="middle" fill="#231f20" textLength="11.3" lengthAdjust="spacingAndGlyphs" stroke="#231f20" stroke-width="0.1" >+/-</text>
<text x="308.34" y="390.80" font-size="8.8" text-anchor="middle" fill="#231f20" stroke="#231f20" stroke-width="0.1" >hi</text>
<text x="328.01" y="376.80" font-size="8.8" text-anchor="middle" fill="#231f20" textLength="8.6" lengthAdjust="spacingAndGlyphs" stroke="#231f20" stroke-width="0.1" >-/-</text>
<text x="328.01" y="390.80" font-size="8.8" text-anchor="middle" fill="#231f20" stroke="#231f20" stroke-width="0.1" >hi</text>
<text x="347.68" y="376.80" font-size="8.8" text-anchor="middle" fill="#231f20" textLength="11.3" lengthAdjust="spacingAndGlyphs" stroke="#231f20" stroke-width="0.1" >+/-</text>
<text x="347.68" y="390.80" font-size="8.8" text-anchor="middle" fill="#231f20" stroke="#231f20" stroke-width="0.1" >lo</text>
<text x="367.35" y="376.80" font-size="8.8" text-anchor="middle" fill="#231f20" textLength="8.6" lengthAdjust="spacingAndGlyphs" stroke="#231f20" stroke-width="0.1" >-/-</text>
<text x="367.35" y="390.80" font-size="8.8" text-anchor="middle" fill="#231f20" stroke="#231f20" stroke-width="0.1" >lo</text>
<text x="387.02" y="376.80" font-size="8.8" text-anchor="middle" fill="#231f20" textLength="11.3" lengthAdjust="spacingAndGlyphs" stroke="#231f20" stroke-width="0.1" >+/-</text>
<text x="387.02" y="390.80" font-size="8.8" text-anchor="middle" fill="#231f20" stroke="#231f20" stroke-width="0.1" >hi</text>
<text x="406.69" y="376.80" font-size="8.8" text-anchor="middle" fill="#231f20" textLength="8.6" lengthAdjust="spacingAndGlyphs" stroke="#231f20" stroke-width="0.1" >-/-</text>
<text x="406.69" y="390.80" font-size="8.8" text-anchor="middle" fill="#231f20" stroke="#231f20" stroke-width="0.1" >hi</text>
<line x1="265.50" y1="398.50" x2="334.50" y2="398.50" stroke="#3c3c3c" stroke-width="1.1"/>
<line x1="344.00" y1="398.50" x2="413.20" y2="398.50" stroke="#3c3c3c" stroke-width="1.1"/>
<text x="300.00" y="409.60" font-size="8.9" text-anchor="middle" fill="#231f20" textLength="38.2" lengthAdjust="spacingAndGlyphs" stroke="#231f20" stroke-width="0.1" >endosteal</text>
<text x="379.10" y="409.60" font-size="8.9" text-anchor="middle" fill="#231f20" textLength="54.8" lengthAdjust="spacingAndGlyphs" stroke="#231f20" stroke-width="0.1" >non-endosteal</text>
<text x="7.60" y="437.70" font-size="12.5" text-anchor="start" fill="#000" font-weight="bold" >G</text>
<text x="99.00" y="445.70" font-size="8.2" text-anchor="middle" fill="#231f20" textLength="34" lengthAdjust="spacingAndGlyphs" stroke="#231f20" stroke-width="0.1" >p = 0.005</text>
<line x1="48.20" y1="479.00" x2="48.20" y2="580.80" stroke="#231f20" stroke-width="1.5"/>
<line x1="45.20" y1="580.10" x2="48.20" y2="580.10" stroke="#231f20" stroke-width="1"/>
<text x="41.80" y="582.90" font-size="8.7" text-anchor="end" fill="#231f20" stroke="#231f20" stroke-width="0.1" >0</text>
<line x1="45.20" y1="547.60" x2="48.20" y2="547.60" stroke="#231f20" stroke-width="1"/>
<text x="41.80" y="550.40" font-size="8.7" text-anchor="end" fill="#231f20" stroke="#231f20" stroke-width="0.1" >1</text>
<line x1="45.20" y1="515.10" x2="48.20" y2="515.10" stroke="#231f20" stroke-width="1"/>
<text x="41.80" y="517.90" font-size="8.7" text-anchor="end" fill="#231f20" stroke="#231f20" stroke-width="0.1" >2</text>
<line x1="45.20" y1="482.60" x2="48.20" y2="482.60" stroke="#231f20" stroke-width="1"/>
<text x="41.80" y="485.40" font-size="8.7" text-anchor="end" fill="#231f20" stroke="#231f20" stroke-width="0.1" >3</text>
<line x1="47.50" y1="580.10" x2="168.00" y2="580.10" stroke="#231f20" stroke-width="1.5"/>
<line x1="58.10" y1="580.10" x2="58.10" y2="582.60" stroke="#231f20" stroke-width="0.9"/>
<line x1="77.85" y1="580.10" x2="77.85" y2="582.60" stroke="#231f20" stroke-width="0.9"/>
<line x1="97.60" y1="580.10" x2="97.60" y2="582.60" stroke="#231f20" stroke-width="0.9"/>
<line x1="117.35" y1="580.10" x2="117.35" y2="582.60" stroke="#231f20" stroke-width="0.9"/>
<line x1="137.10" y1="580.10" x2="137.10" y2="582.60" stroke="#231f20" stroke-width="0.9"/>
<line x1="156.85" y1="580.10" x2="156.85" y2="582.60" stroke="#231f20" stroke-width="0.9"/>
<rect x="51.20" y="547.60" width="13.80" height="32.50" fill="#7c5a8f"/>
<line x1="58.10" y1="539.15" x2="58.10" y2="547.60" stroke="#3c3c3c" stroke-width="1"/>
<line x1="54.80" y1="539.15" x2="61.40" y2="539.15" stroke="#3c3c3c" stroke-width="1"/>
<text x="58.10" y="576.50" font-size="9.6" text-anchor="middle" fill="#fff" textLength="4.5" lengthAdjust="spacingAndGlyphs" fill-opacity="0.85" >9</text>
<rect x="70.95" y="503.73" width="13.80" height="76.38" fill="#9bc672"/>
<line x1="77.85" y1="492.35" x2="77.85" y2="503.73" stroke="#3c3c3c" stroke-width="1"/>
<line x1="74.55" y1="492.35" x2="81.15" y2="492.35" stroke="#3c3c3c" stroke-width="1"/>
<text x="77.85" y="576.50" font-size="9.6" text-anchor="middle" fill="#fff" textLength="4.5" lengthAdjust="spacingAndGlyphs" fill-opacity="0.85" >9</text>
<rect x="90.70" y="548.58" width="13.80" height="31.52" fill="#5b2f70"/>
<line x1="97.60" y1="528.10" x2="97.60" y2="548.58" stroke="#3c3c3c" stroke-width="1"/>
<line x1="94.30" y1="528.10" x2="100.90" y2="528.10" stroke="#3c3c3c" stroke-width="1"/>
<text x="97.60" y="576.50" font-size="9.6" text-anchor="middle" fill="#fff" textLength="4.5" lengthAdjust="spacingAndGlyphs" fill-opacity="0.85" >3</text>
<rect x="110.45" y="554.10" width="13.80" height="26.00" fill="#69ab44"/>
<line x1="117.35" y1="549.88" x2="117.35" y2="554.10" stroke="#3c3c3c" stroke-width="1"/>
<line x1="114.05" y1="549.88" x2="120.65" y2="549.88" stroke="#3c3c3c" stroke-width="1"/>
<text x="117.35" y="576.50" font-size="9.6" text-anchor="middle" fill="#fff" textLength="4.5" lengthAdjust="spacingAndGlyphs" fill-opacity="0.85" >6</text>
<rect x="130.20" y="560.93" width="13.80" height="19.17" fill="#5b2f70"/>
<line x1="137.10" y1="554.10" x2="137.10" y2="560.93" stroke="#3c3c3c" stroke-width="1"/>
<line x1="133.80" y1="554.10" x2="140.40" y2="554.10" stroke="#3c3c3c" stroke-width="1"/>
<text x="137.10" y="576.50" font-size="9.6" text-anchor="middle" fill="#fff" textLength="4.5" lengthAdjust="spacingAndGlyphs" fill-opacity="0.85" >6</text>
<rect x="149.95" y="497.23" width="13.80" height="82.88" fill="#69ab44"/>
<line x1="156.85" y1="471.23" x2="156.85" y2="497.23" stroke="#3c3c3c" stroke-width="1"/>
<line x1="153.55" y1="471.23" x2="160.15" y2="471.23" stroke="#3c3c3c" stroke-width="1"/>
<text x="156.85" y="576.50" font-size="9.6" text-anchor="middle" fill="#fff" textLength="4.5" lengthAdjust="spacingAndGlyphs" fill-opacity="0.85" >4</text>
<path d="M58.10 481.70V478.70H77.85V481.70" fill="none" stroke="#3c3c3c" stroke-width="1"/>
<text x="67.97" y="478.10" font-size="8.2" text-anchor="middle" fill="#231f20" font-weight="bold" letter-spacing="0.6">**</text>
<path d="M79.05 468.80V465.80H117.35V468.80" fill="none" stroke="#3c3c3c" stroke-width="1"/>
<text x="98.20" y="465.20" font-size="8.2" text-anchor="middle" fill="#231f20" font-weight="bold" letter-spacing="0.6">**</text>
<path d="M137.10 465.30V462.30H156.85V465.30" fill="none" stroke="#3c3c3c" stroke-width="1"/>
<text x="146.97" y="461.70" font-size="8.2" text-anchor="middle" fill="#231f20" font-weight="bold" letter-spacing="0.6">**</text>
<text x="31.70" y="530.30" font-size="10" text-anchor="middle" fill="#231f20" textLength="64.8" lengthAdjust="spacingAndGlyphs" stroke="#231f20" stroke-width="0.1" transform="rotate(-90 31.70 530.30)" >CFU-C fold change</text>
<text x="40.40" y="593.90" font-size="8.8" text-anchor="end" fill="#231f20" font-style="italic" textLength="21.7" lengthAdjust="spacingAndGlyphs" stroke="#231f20" stroke-width="0.1" >Gfra2</text>
<text x="58.10" y="593.90" font-size="8.8" text-anchor="middle" fill="#231f20" textLength="11.3" lengthAdjust="spacingAndGlyphs" stroke="#231f20" stroke-width="0.1" >+/-</text>
<text x="77.85" y="593.90" font-size="8.8" text-anchor="middle" fill="#231f20" textLength="8.6" lengthAdjust="spacingAndGlyphs" stroke="#231f20" stroke-width="0.1" >-/-</text>
<text x="97.60" y="593.90" font-size="8.8" text-anchor="middle" fill="#231f20" textLength="11.3" lengthAdjust="spacingAndGlyphs" stroke="#231f20" stroke-width="0.1" >+/-</text>
<text x="117.35" y="593.90" font-size="8.8" text-anchor="middle" fill="#231f20" textLength="8.6" lengthAdjust="spacingAndGlyphs" stroke="#231f20" stroke-width="0.1" >-/-</text>
<text x="137.10" y="593.90" font-size="8.8" text-anchor="middle" fill="#231f20" textLength="11.3" lengthAdjust="spacingAndGlyphs" stroke="#231f20" stroke-width="0.1" >+/-</text>
<text x="156.85" y="593.90" font-size="8.8" text-anchor="middle" fill="#231f20" textLength="8.6" lengthAdjust="spacingAndGlyphs" stroke="#231f20" stroke-width="0.1" >-/-</text>
<text x="40.40" y="606.10" font-size="8.8" text-anchor="end" fill="#231f20" font-style="italic" textLength="24.2" lengthAdjust="spacingAndGlyphs" stroke="#231f20" stroke-width="0.1" >Adrb2</text>
<text x="58.10" y="606.10" font-size="8.8" text-anchor="middle" fill="#231f20" textLength="14.3" lengthAdjust="spacingAndGlyphs" stroke="#231f20" stroke-width="0.1" >+/+</text>
<text x="77.85" y="606.10" font-size="8.8" text-anchor="middle" fill="#231f20" textLength="14.3" lengthAdjust="spacingAndGlyphs" stroke="#231f20" stroke-width="0.1" >+/+</text>
<text x="97.60" y="606.10" font-size="8.8" text-anchor="middle" fill="#231f20" textLength="14.3" lengthAdjust="spacingAndGlyphs" stroke="#231f20" stroke-width="0.1" >+/+</text>
<text x="117.35" y="606.10" font-size="8.8" text-anchor="middle" fill="#231f20" textLength="14.3" lengthAdjust="spacingAndGlyphs" stroke="#231f20" stroke-width="0.1" >+/+</text>
<text x="137.10" y="606.10" font-size="8.8" text-anchor="middle" fill="#231f20" textLength="8.6" lengthAdjust="spacingAndGlyphs" stroke="#231f20" stroke-width="0.1" >-/-</text>
<text x="156.85" y="606.10" font-size="8.8" text-anchor="middle" fill="#231f20" textLength="8.6" lengthAdjust="spacingAndGlyphs" stroke="#231f20" stroke-width="0.1" >-/-</text>
<text x="40.40" y="618.30" font-size="8.8" text-anchor="end" fill="#231f20" font-style="italic" textLength="24.2" lengthAdjust="spacingAndGlyphs" stroke="#231f20" stroke-width="0.1" >Adrb3</text>
<text x="58.10" y="618.30" font-size="8.8" text-anchor="middle" fill="#231f20" textLength="14.3" lengthAdjust="spacingAndGlyphs" stroke="#231f20" stroke-width="0.1" >+/+</text>
<text x="77.85" y="618.30" font-size="8.8" text-anchor="middle" fill="#231f20" textLength="14.3" lengthAdjust="spacingAndGlyphs" stroke="#231f20" stroke-width="0.1" >+/+</text>
<text x="97.60" y="618.30" font-size="8.8" text-anchor="middle" fill="#231f20" textLength="8.6" lengthAdjust="spacingAndGlyphs" stroke="#231f20" stroke-width="0.1" >-/-</text>
<text x="117.35" y="618.30" font-size="8.8" text-anchor="middle" fill="#231f20" textLength="8.6" lengthAdjust="spacingAndGlyphs" stroke="#231f20" stroke-width="0.1" >-/-</text>
<text x="137.10" y="618.30" font-size="8.8" text-anchor="middle" fill="#231f20" textLength="14.3" lengthAdjust="spacingAndGlyphs" stroke="#231f20" stroke-width="0.1" >+/+</text>
<text x="156.85" y="618.30" font-size="8.8" text-anchor="middle" fill="#231f20" textLength="14.3" lengthAdjust="spacingAndGlyphs" stroke="#231f20" stroke-width="0.1" >+/+</text>
<text x="183.60" y="437.60" font-size="12.5" text-anchor="start" fill="#000" font-weight="bold" >H</text>
<text x="296.30" y="461.00" font-size="8.2" text-anchor="middle" fill="#231f20" textLength="38.4" lengthAdjust="spacingAndGlyphs" stroke="#231f20" stroke-width="0.1" >p = 0.0002</text>
<line x1="246.00" y1="467.00" x2="246.00" y2="580.50" stroke="#231f20" stroke-width="1.5"/>
<line x1="243.00" y1="579.80" x2="246.00" y2="579.80" stroke="#231f20" stroke-width="1"/>
<text x="239.60" y="582.60" font-size="8.7" text-anchor="end" fill="#231f20" stroke="#231f20" stroke-width="0.1" >0</text>
<line x1="243.00" y1="543.00" x2="246.00" y2="543.00" stroke="#231f20" stroke-width="1"/>
<text x="239.60" y="545.80" font-size="8.7" text-anchor="end" fill="#231f20" stroke="#231f20" stroke-width="0.1" >5</text>
<line x1="243.00" y1="506.20" x2="246.00" y2="506.20" stroke="#231f20" stroke-width="1"/>
<text x="239.60" y="509.00" font-size="8.7" text-anchor="end" fill="#231f20" stroke="#231f20" stroke-width="0.1" >10</text>
<line x1="243.00" y1="469.40" x2="246.00" y2="469.40" stroke="#231f20" stroke-width="1"/>
<text x="239.60" y="472.20" font-size="8.7" text-anchor="end" fill="#231f20" stroke="#231f20" stroke-width="0.1" >15</text>
<line x1="245.30" y1="579.80" x2="365.00" y2="579.80" stroke="#231f20" stroke-width="1.5"/>
<line x1="256.20" y1="579.80" x2="256.20" y2="582.30" stroke="#231f20" stroke-width="0.9"/>
<line x1="275.95" y1="579.80" x2="275.95" y2="582.30" stroke="#231f20" stroke-width="0.9"/>
<line x1="295.70" y1="579.80" x2="295.70" y2="582.30" stroke="#231f20" stroke-width="0.9"/>
<line x1="315.45" y1="579.80" x2="315.45" y2="582.30" stroke="#231f20" stroke-width="0.9"/>
<line x1="335.20" y1="579.80" x2="335.20" y2="582.30" stroke="#231f20" stroke-width="0.9"/>
<line x1="354.95" y1="579.80" x2="354.95" y2="582.30" stroke="#231f20" stroke-width="0.9"/>
<rect x="249.30" y="552.79" width="13.80" height="27.01" fill="#7c5a8f"/>
<line x1="256.20" y1="548.15" x2="256.20" y2="552.79" stroke="#3c3c3c" stroke-width="1"/>
<line x1="252.90" y1="548.15" x2="259.50" y2="548.15" stroke="#3c3c3c" stroke-width="1"/>
<text x="256.20" y="576.50" font-size="9.6" text-anchor="middle" fill="#fff" textLength="4.5" lengthAdjust="spacingAndGlyphs" fill-opacity="0.85" >8</text>
<rect x="269.05" y="530.12" width="13.80" height="49.68" fill="#9bc672"/>
<line x1="275.95" y1="524.60" x2="275.95" y2="530.12" stroke="#3c3c3c" stroke-width="1"/>
<line x1="272.65" y1="524.60" x2="279.25" y2="524.60" stroke="#3c3c3c" stroke-width="1"/>
<text x="275.95" y="576.50" font-size="9.6" text-anchor="middle" fill="#fff" textLength="4.5" lengthAdjust="spacingAndGlyphs" fill-opacity="0.85" >7</text>
<rect x="288.80" y="562.87" width="13.80" height="16.93" fill="#5b2f70"/>
<line x1="295.70" y1="559.04" x2="295.70" y2="562.87" stroke="#3c3c3c" stroke-width="1"/>
<line x1="292.40" y1="559.04" x2="299.00" y2="559.04" stroke="#3c3c3c" stroke-width="1"/>
<text x="295.70" y="576.50" font-size="9.6" text-anchor="middle" fill="#fff" textLength="4.5" lengthAdjust="spacingAndGlyphs" fill-opacity="0.85" >4</text>
<rect x="308.55" y="559.19" width="13.80" height="20.61" fill="#69ab44"/>
<line x1="315.45" y1="554.48" x2="315.45" y2="559.19" stroke="#3c3c3c" stroke-width="1"/>
<line x1="312.15" y1="554.48" x2="318.75" y2="554.48" stroke="#3c3c3c" stroke-width="1"/>
<text x="315.45" y="576.50" font-size="9.6" text-anchor="middle" fill="#fff" textLength="4.5" lengthAdjust="spacingAndGlyphs" fill-opacity="0.85" >4</text>
<rect x="328.30" y="546.68" width="13.80" height="33.12" fill="#5b2f70"/>
<line x1="335.20" y1="544.25" x2="335.20" y2="546.68" stroke="#3c3c3c" stroke-width="1"/>
<line x1="331.90" y1="544.25" x2="338.50" y2="544.25" stroke="#3c3c3c" stroke-width="1"/>
<text x="335.20" y="576.50" font-size="9.6" text-anchor="middle" fill="#fff" textLength="4.5" lengthAdjust="spacingAndGlyphs" fill-opacity="0.85" >3</text>
<rect x="348.05" y="507.30" width="13.80" height="72.50" fill="#69ab44"/>
<line x1="354.95" y1="495.53" x2="354.95" y2="507.30" stroke="#3c3c3c" stroke-width="1"/>
<line x1="351.65" y1="495.53" x2="358.25" y2="495.53" stroke="#3c3c3c" stroke-width="1"/>
<text x="354.95" y="576.50" font-size="9.6" text-anchor="middle" fill="#fff" textLength="4.5" lengthAdjust="spacingAndGlyphs" fill-opacity="0.85" >3</text>
<path d="M256.20 513.60V510.60H275.95V513.60" fill="none" stroke="#3c3c3c" stroke-width="1"/>
<text x="266.07" y="510.00" font-size="8.2" text-anchor="middle" fill="#231f20" font-weight="bold" letter-spacing="0.6">**</text>
<path d="M277.15 490.80V487.80H315.45V490.80" fill="none" stroke="#3c3c3c" stroke-width="1"/>
<text x="296.30" y="487.20" font-size="8.2" text-anchor="middle" fill="#231f20" font-weight="bold" letter-spacing="0.6">**</text>
<path d="M335.20 483.40V480.40H354.95V483.40" fill="none" stroke="#3c3c3c" stroke-width="1"/>
<text x="345.07" y="479.80" font-size="8.2" text-anchor="middle" fill="#231f20" font-weight="bold" letter-spacing="0.6">**</text>
<text x="224.80" y="524.00" font-size="10" text-anchor="middle" fill="#231f20" textLength="101.4" lengthAdjust="spacingAndGlyphs" stroke="#231f20" stroke-width="0.1" transform="rotate(-90 224.80 524.00)" >WBCs (x10<tspan dy="-3" font-size="6.5">6</tspan><tspan dy="3">) per ml of blood</tspan></text>
<text x="238.70" y="593.90" font-size="8.8" text-anchor="end" fill="#231f20" font-style="italic" textLength="21.8" lengthAdjust="spacingAndGlyphs" stroke="#231f20" stroke-width="0.1" >Gfra2</text>
<text x="256.20" y="593.90" font-size="8.8" text-anchor="middle" fill="#231f20" textLength="11.3" lengthAdjust="spacingAndGlyphs" stroke="#231f20" stroke-width="0.1" >+/-</text>
<text x="275.95" y="593.90" font-size="8.8" text-anchor="middle" fill="#231f20" textLength="8.6" lengthAdjust="spacingAndGlyphs" stroke="#231f20" stroke-width="0.1" >-/-</text>
<text x="295.70" y="593.90" font-size="8.8" text-anchor="middle" fill="#231f20" textLength="11.3" lengthAdjust="spacingAndGlyphs" stroke="#231f20" stroke-width="0.1" >+/-</text>
<text x="315.45" y="593.90" font-size="8.8" text-anchor="middle" fill="#231f20" textLength="8.6" lengthAdjust="spacingAndGlyphs" stroke="#231f20" stroke-width="0.1" >-/-</text>
<text x="335.20" y="593.90" font-size="8.8" text-anchor="middle" fill="#231f20" textLength="11.3" lengthAdjust="spacingAndGlyphs" stroke="#231f20" stroke-width="0.1" >+/-</text>
<text x="354.95" y="593.90" font-size="8.8" text-anchor="middle" fill="#231f20" textLength="8.6" lengthAdjust="spacingAndGlyphs" stroke="#231f20" stroke-width="0.1" >-/-</text>
<text x="238.70" y="606.10" font-size="8.8" text-anchor="end" fill="#231f20" font-style="italic" textLength="24.5" lengthAdjust="spacingAndGlyphs" stroke="#231f20" stroke-width="0.1" >Adrb2</text>
<text x="256.20" y="606.10" font-size="8.8" text-anchor="middle" fill="#231f20" textLength="14.3" lengthAdjust="spacingAndGlyphs" stroke="#231f20" stroke-width="0.1" >+/+</text>
<text x="275.95" y="606.10" font-size="8.8" text-anchor="middle" fill="#231f20" textLength="14.3" lengthAdjust="spacingAndGlyphs" stroke="#231f20" stroke-width="0.1" >+/+</text>
<text x="295.70" y="606.10" font-size="8.8" text-anchor="middle" fill="#231f20" textLength="14.3" lengthAdjust="spacingAndGlyphs" stroke="#231f20" stroke-width="0.1" >+/+</text>
<text x="315.45" y="606.10" font-size="8.8" text-anchor="middle" fill="#231f20" textLength="14.3" lengthAdjust="spacingAndGlyphs" stroke="#231f20" stroke-width="0.1" >+/+</text>
<text x="335.20" y="606.10" font-size="8.8" text-anchor="middle" fill="#231f20" textLength="8.6" lengthAdjust="spacingAndGlyphs" stroke="#231f20" stroke-width="0.1" >-/-</text>
<text x="354.95" y="606.10" font-size="8.8" text-anchor="middle" fill="#231f20" textLength="8.6" lengthAdjust="spacingAndGlyphs" stroke="#231f20" stroke-width="0.1" >-/-</text>
<text x="238.70" y="618.30" font-size="8.8" text-anchor="end" fill="#231f20" font-style="italic" textLength="24.5" lengthAdjust="spacingAndGlyphs" stroke="#231f20" stroke-width="0.1" >Adrb3</text>
<text x="256.20" y="618.30" font-size="8.8" text-anchor="middle" fill="#231f20" textLength="14.3" lengthAdjust="spacingAndGlyphs" stroke="#231f20" stroke-width="0.1" >+/+</text>
<text x="275.95" y="618.30" font-size="8.8" text-anchor="middle" fill="#231f20" textLength="14.3" lengthAdjust="spacingAndGlyphs" stroke="#231f20" stroke-width="0.1" >+/+</text>
<text x="295.70" y="618.30" font-size="8.8" text-anchor="middle" fill="#231f20" textLength="8.6" lengthAdjust="spacingAndGlyphs" stroke="#231f20" stroke-width="0.1" >-/-</text>
<text x="315.45" y="618.30" font-size="8.8" text-anchor="middle" fill="#231f20" textLength="8.6" lengthAdjust="spacingAndGlyphs" stroke="#231f20" stroke-width="0.1" >-/-</text>
<text x="335.20" y="618.30" font-size="8.8" text-anchor="middle" fill="#231f20" textLength="14.3" lengthAdjust="spacingAndGlyphs" stroke="#231f20" stroke-width="0.1" >+/+</text>
<text x="354.95" y="618.30" font-size="8.8" text-anchor="middle" fill="#231f20" textLength="14.3" lengthAdjust="spacingAndGlyphs" stroke="#231f20" stroke-width="0.1" >+/+</text>
<defs><filter id="bl" x="-10%" y="-10%" width="120%" height="120%"><feGaussianBlur stdDeviation="0.8"/></filter><filter id="bl2" x="-30%" y="-30%" width="160%" height="160%"><feGaussianBlur stdDeviation="1.6"/></filter></defs>
<text x="463.50" y="443.80" font-size="9.6" text-anchor="middle" fill="#111" textLength="63.3" lengthAdjust="spacingAndGlyphs" stroke="#111" stroke-width="0.1" >endosteal BM</text>
<rect x="418.30" y="447.90" width="91.90" height="85.70" fill="#f7f7f7"/>
<polygon points="425.8,493.0 430.0,489.1 437.2,488.2 444.9,489.6 449.7,493.5 453.6,497.3 457.4,498.3 460.0,502.1 460.0,506.9 458.4,511.7 457.0,518.5 456.5,526.2 454.5,533.0 441.1,533.0 438.2,526.2 437.2,518.5 433.4,510.8 428.0,507.5 425.5,502.0 425.3,496.0" fill="#050505" filter="url(#bl)"/>
<path d="M446.0 454.2h0.75v0.75h-0.75zM480.3 455.4h0.75v0.75h-0.75zM470.1 456.7h0.75v0.75h-0.75zM448.5 457.8h0.75v0.75h-0.75zM456.5 457.7h0.75v0.75h-0.75zM466.1 457.8h0.75v0.75h-0.75zM473.2 457.6h0.75v0.75h-0.75zM474.7 457.6h0.75v0.75h-0.75zM469.2 458.7h0.75v0.75h-0.75zM473.4 458.4h0.75v0.75h-0.75zM465.5 459.1h0.75v0.75h-0.75zM480.6 459.3h0.75v0.75h-0.75zM464.1 460.8h0.75v0.75h-0.75zM453.6 461.5h0.75v0.75h-0.75zM454.9 461.8h0.75v0.75h-0.75zM462.9 461.5h0.75v0.75h-0.75zM467.4 461.4h0.75v0.75h-0.75zM471.0 462.3h0.75v0.75h-0.75zM442.1 462.5h0.75v0.75h-0.75zM465.8 462.4h0.75v0.75h-0.75zM480.3 462.8h0.75v0.75h-0.75zM480.1 463.9h0.75v0.75h-0.75zM448.1 464.6h0.75v0.75h-0.75zM461.5 464.5h0.75v0.75h-0.75zM461.9 464.4h0.75v0.75h-0.75zM423.1 465.6h0.75v0.75h-0.75zM443.0 466.0h0.75v0.75h-0.75zM447.0 466.4h0.75v0.75h-0.75zM468.4 466.7h0.75v0.75h-0.75zM439.8 467.0h0.75v0.75h-0.75zM449.4 467.2h0.75v0.75h-0.75zM446.7 467.9h0.75v0.75h-0.75zM451.4 468.2h0.75v0.75h-0.75zM454.0 468.4h0.75v0.75h-0.75zM444.6 468.6h0.75v0.75h-0.75zM459.0 468.8h0.75v0.75h-0.75zM478.3 468.5h0.75v0.75h-0.75zM428.8 469.2h0.75v0.75h-0.75zM451.0 469.0h0.75v0.75h-0.75zM469.0 469.0h0.75v0.75h-0.75zM438.6 470.3h0.75v0.75h-0.75zM444.1 470.1h0.75v0.75h-0.75zM451.5 470.3h0.75v0.75h-0.75zM465.6 470.7h0.75v0.75h-0.75zM450.4 471.4h0.75v0.75h-0.75zM460.0 470.9h0.75v0.75h-0.75zM463.9 471.4h0.75v0.75h-0.75zM464.7 471.0h0.75v0.75h-0.75zM446.5 471.8h0.75v0.75h-0.75zM449.9 471.4h0.75v0.75h-0.75zM452.2 471.5h0.75v0.75h-0.75zM453.2 471.9h0.75v0.75h-0.75zM453.6 471.4h0.75v0.75h-0.75zM462.9 471.8h0.75v0.75h-0.75zM465.4 471.8h0.75v0.75h-0.75zM453.6 472.4h0.75v0.75h-0.75zM468.0 472.3h0.75v0.75h-0.75zM475.0 472.3h0.75v0.75h-0.75zM436.1 472.5h0.75v0.75h-0.75zM444.9 472.5h0.75v0.75h-0.75zM453.8 472.7h0.75v0.75h-0.75zM464.5 472.5h0.75v0.75h-0.75zM436.9 473.2h0.75v0.75h-0.75zM446.8 473.3h0.75v0.75h-0.75zM470.2 473.1h0.75v0.75h-0.75zM446.5 473.7h0.75v0.75h-0.75zM448.8 473.7h0.75v0.75h-0.75zM451.4 473.5h0.75v0.75h-0.75zM452.8 473.5h0.75v0.75h-0.75zM476.1 473.7h0.75v0.75h-0.75zM445.2 474.0h0.75v0.75h-0.75zM449.3 474.4h0.75v0.75h-0.75zM452.2 474.4h0.75v0.75h-0.75zM455.4 473.9h0.75v0.75h-0.75zM459.1 474.3h0.75v0.75h-0.75zM478.4 474.2h0.75v0.75h-0.75zM480.1 475.1h0.75v0.75h-0.75zM453.9 475.4h0.75v0.75h-0.75zM456.6 475.9h0.75v0.75h-0.75zM462.4 475.7h0.75v0.75h-0.75zM436.3 476.3h0.75v0.75h-0.75zM446.4 476.0h0.75v0.75h-0.75zM466.9 476.0h0.75v0.75h-0.75zM473.4 476.3h0.75v0.75h-0.75zM478.8 476.2h0.75v0.75h-0.75zM435.3 476.7h0.75v0.75h-0.75zM447.3 476.8h0.75v0.75h-0.75zM448.3 476.4h0.75v0.75h-0.75zM480.2 476.6h0.75v0.75h-0.75zM442.1 477.0h0.75v0.75h-0.75zM451.1 477.0h0.75v0.75h-0.75zM449.4 477.7h0.75v0.75h-0.75zM436.5 478.1h0.75v0.75h-0.75zM438.8 478.3h0.75v0.75h-0.75zM447.6 478.2h0.75v0.75h-0.75zM448.6 478.4h0.75v0.75h-0.75zM432.3 478.5h0.75v0.75h-0.75zM445.6 478.7h0.75v0.75h-0.75zM446.9 478.7h0.75v0.75h-0.75zM448.5 478.6h0.75v0.75h-0.75zM449.5 478.7h0.75v0.75h-0.75zM452.3 478.6h0.75v0.75h-0.75zM455.5 478.7h0.75v0.75h-0.75zM432.7 479.0h0.75v0.75h-0.75zM434.6 479.0h0.75v0.75h-0.75zM437.3 479.3h0.75v0.75h-0.75zM447.2 479.0h0.75v0.75h-0.75zM448.2 479.3h0.75v0.75h-0.75zM452.0 479.2h0.75v0.75h-0.75zM453.5 479.2h0.75v0.75h-0.75zM457.1 479.0h0.75v0.75h-0.75zM467.9 479.3h0.75v0.75h-0.75zM474.5 479.4h0.75v0.75h-0.75zM478.0 479.2h0.75v0.75h-0.75zM479.3 479.3h0.75v0.75h-0.75zM442.5 479.6h0.75v0.75h-0.75zM446.4 479.6h0.75v0.75h-0.75zM452.7 479.5h0.75v0.75h-0.75zM455.7 479.5h0.75v0.75h-0.75zM457.3 479.5h0.75v0.75h-0.75zM450.5 479.9h0.75v0.75h-0.75zM472.6 480.0h0.75v0.75h-0.75zM450.2 480.4h0.75v0.75h-0.75zM451.0 480.6h0.75v0.75h-0.75zM454.4 480.7h0.75v0.75h-0.75zM451.5 481.0h0.75v0.75h-0.75zM434.0 481.5h0.75v0.75h-0.75zM436.6 481.7h0.75v0.75h-0.75zM441.5 481.8h0.75v0.75h-0.75zM447.7 481.4h0.75v0.75h-0.75zM455.1 481.7h0.75v0.75h-0.75zM458.2 481.5h0.75v0.75h-0.75zM465.5 481.7h0.75v0.75h-0.75zM467.8 481.6h0.75v0.75h-0.75zM427.7 482.2h0.75v0.75h-0.75zM445.8 482.0h0.75v0.75h-0.75zM446.1 482.8h0.75v0.75h-0.75zM454.4 482.4h0.75v0.75h-0.75zM429.2 483.0h0.75v0.75h-0.75zM434.7 483.0h0.75v0.75h-0.75zM442.3 483.2h0.75v0.75h-0.75zM444.3 483.0h0.75v0.75h-0.75zM472.1 483.0h0.75v0.75h-0.75zM474.7 483.1h0.75v0.75h-0.75zM420.9 483.7h0.75v0.75h-0.75zM434.5 483.6h0.75v0.75h-0.75zM440.3 483.5h0.75v0.75h-0.75zM448.2 483.6h0.75v0.75h-0.75zM449.2 483.6h0.75v0.75h-0.75zM450.9 483.7h0.75v0.75h-0.75zM454.1 483.4h0.75v0.75h-0.75zM454.9 483.7h0.75v0.75h-0.75zM456.6 483.9h0.75v0.75h-0.75zM462.1 483.7h0.75v0.75h-0.75zM462.8 483.8h0.75v0.75h-0.75zM432.0 484.3h0.75v0.75h-0.75zM435.2 484.0h0.75v0.75h-0.75zM437.6 484.0h0.75v0.75h-0.75zM446.3 484.1h0.75v0.75h-0.75zM453.1 484.1h0.75v0.75h-0.75zM456.2 484.4h0.75v0.75h-0.75zM474.0 484.4h0.75v0.75h-0.75zM423.2 484.4h0.75v0.75h-0.75zM434.0 484.7h0.75v0.75h-0.75zM435.0 484.8h0.75v0.75h-0.75zM436.4 484.5h0.75v0.75h-0.75zM445.4 484.7h0.75v0.75h-0.75zM446.4 484.6h0.75v0.75h-0.75zM452.9 484.4h0.75v0.75h-0.75zM454.2 484.7h0.75v0.75h-0.75zM433.1 485.3h0.75v0.75h-0.75zM438.3 485.4h0.75v0.75h-0.75zM448.8 485.1h0.75v0.75h-0.75zM449.2 485.1h0.75v0.75h-0.75zM453.7 485.2h0.75v0.75h-0.75zM455.1 485.4h0.75v0.75h-0.75zM455.9 485.1h0.75v0.75h-0.75zM456.8 485.2h0.75v0.75h-0.75zM472.5 485.3h0.75v0.75h-0.75zM432.5 485.5h0.75v0.75h-0.75zM436.4 485.5h0.75v0.75h-0.75zM441.9 485.7h0.75v0.75h-0.75zM460.0 485.7h0.75v0.75h-0.75zM460.7 485.4h0.75v0.75h-0.75zM439.3 486.4h0.75v0.75h-0.75zM440.1 486.0h0.75v0.75h-0.75zM440.4 486.3h0.75v0.75h-0.75zM442.7 486.0h0.75v0.75h-0.75zM443.5 486.2h0.75v0.75h-0.75zM447.8 485.9h0.75v0.75h-0.75zM448.0 485.9h0.75v0.75h-0.75zM448.6 486.0h0.75v0.75h-0.75zM456.2 486.2h0.75v0.75h-0.75zM466.4 486.1h0.75v0.75h-0.75zM423.5 486.7h0.75v0.75h-0.75zM436.0 486.6h0.75v0.75h-0.75zM437.1 486.5h0.75v0.75h-0.75zM441.9 486.6h0.75v0.75h-0.75zM443.9 486.8h0.75v0.75h-0.75zM448.9 486.8h0.75v0.75h-0.75zM450.9 486.7h0.75v0.75h-0.75zM430.6 487.2h0.75v0.75h-0.75zM431.3 487.1h0.75v0.75h-0.75zM432.6 487.3h0.75v0.75h-0.75zM433.6 487.3h0.75v0.75h-0.75zM437.0 487.3h0.75v0.75h-0.75zM438.3 487.2h0.75v0.75h-0.75zM439.5 487.4h0.75v0.75h-0.75zM440.5 487.4h0.75v0.75h-0.75zM441.8 487.2h0.75v0.75h-0.75zM444.0 487.1h0.75v0.75h-0.75zM444.3 486.9h0.75v0.75h-0.75zM445.8 487.1h0.75v0.75h-0.75zM448.4 487.3h0.75v0.75h-0.75zM480.7 487.1h0.75v0.75h-0.75zM427.0 487.8h0.75v0.75h-0.75zM431.6 487.7h0.75v0.75h-0.75zM439.9 487.8h0.75v0.75h-0.75zM441.1 487.5h0.75v0.75h-0.75zM442.4 487.9h0.75v0.75h-0.75zM450.0 487.9h0.75v0.75h-0.75zM460.4 487.8h0.75v0.75h-0.75zM427.3 488.2h0.75v0.75h-0.75zM432.4 488.2h0.75v0.75h-0.75zM434.0 488.4h0.75v0.75h-0.75zM439.0 488.1h0.75v0.75h-0.75zM441.6 488.3h0.75v0.75h-0.75zM441.9 488.1h0.75v0.75h-0.75zM449.9 488.2h0.75v0.75h-0.75zM451.9 488.2h0.75v0.75h-0.75zM456.3 488.4h0.75v0.75h-0.75zM459.1 488.1h0.75v0.75h-0.75zM462.1 488.3h0.75v0.75h-0.75zM480.5 488.0h0.75v0.75h-0.75zM426.4 488.4h0.75v0.75h-0.75zM429.4 488.6h0.75v0.75h-0.75zM442.4 488.7h0.75v0.75h-0.75zM443.1 488.5h0.75v0.75h-0.75zM443.5 488.8h0.75v0.75h-0.75zM443.8 488.6h0.75v0.75h-0.75zM446.5 488.9h0.75v0.75h-0.75zM447.2 488.7h0.75v0.75h-0.75zM449.0 488.5h0.75v0.75h-0.75zM455.8 488.8h0.75v0.75h-0.75zM459.8 488.7h0.75v0.75h-0.75zM461.4 488.4h0.75v0.75h-0.75zM429.3 489.4h0.75v0.75h-0.75zM445.8 489.3h0.75v0.75h-0.75zM448.4 489.3h0.75v0.75h-0.75zM450.2 489.3h0.75v0.75h-0.75zM450.4 489.1h0.75v0.75h-0.75zM451.6 489.0h0.75v0.75h-0.75zM455.4 489.0h0.75v0.75h-0.75zM456.0 489.3h0.75v0.75h-0.75zM473.6 489.1h0.75v0.75h-0.75zM427.3 489.4h0.75v0.75h-0.75zM445.6 489.9h0.75v0.75h-0.75zM446.0 489.7h0.75v0.75h-0.75zM446.6 489.4h0.75v0.75h-0.75zM450.7 489.7h0.75v0.75h-0.75zM465.2 489.7h0.75v0.75h-0.75zM469.3 489.6h0.75v0.75h-0.75zM427.6 490.1h0.75v0.75h-0.75zM427.9 490.3h0.75v0.75h-0.75zM446.2 490.0h0.75v0.75h-0.75zM446.8 490.4h0.75v0.75h-0.75zM448.1 490.3h0.75v0.75h-0.75zM449.8 490.1h0.75v0.75h-0.75zM450.3 490.0h0.75v0.75h-0.75zM452.5 490.1h0.75v0.75h-0.75zM453.9 490.1h0.75v0.75h-0.75zM447.2 490.8h0.75v0.75h-0.75zM447.4 490.8h0.75v0.75h-0.75zM450.5 490.6h0.75v0.75h-0.75zM451.3 490.5h0.75v0.75h-0.75zM451.9 490.6h0.75v0.75h-0.75zM463.6 490.8h0.75v0.75h-0.75zM465.4 490.9h0.75v0.75h-0.75zM422.5 491.1h0.75v0.75h-0.75zM427.0 491.3h0.75v0.75h-0.75zM448.4 491.3h0.75v0.75h-0.75zM450.2 491.3h0.75v0.75h-0.75zM450.6 491.3h0.75v0.75h-0.75zM425.6 491.9h0.75v0.75h-0.75zM448.8 491.6h0.75v0.75h-0.75zM470.3 491.8h0.75v0.75h-0.75zM449.8 492.3h0.75v0.75h-0.75zM458.5 492.3h0.75v0.75h-0.75zM460.9 492.1h0.75v0.75h-0.75zM473.3 492.1h0.75v0.75h-0.75zM421.7 492.8h0.75v0.75h-0.75zM451.3 492.7h0.75v0.75h-0.75zM453.5 492.7h0.75v0.75h-0.75zM454.4 492.5h0.75v0.75h-0.75zM456.6 492.4h0.75v0.75h-0.75zM464.4 492.4h0.75v0.75h-0.75zM449.3 493.3h0.75v0.75h-0.75zM451.8 493.3h0.75v0.75h-0.75zM460.6 493.4h0.75v0.75h-0.75zM422.9 493.5h0.75v0.75h-0.75zM423.6 493.4h0.75v0.75h-0.75zM424.1 493.5h0.75v0.75h-0.75zM450.0 493.7h0.75v0.75h-0.75zM452.8 493.5h0.75v0.75h-0.75zM453.9 493.8h0.75v0.75h-0.75zM455.4 493.6h0.75v0.75h-0.75zM456.4 493.8h0.75v0.75h-0.75zM466.8 493.8h0.75v0.75h-0.75zM471.0 493.8h0.75v0.75h-0.75zM424.8 494.2h0.75v0.75h-0.75zM450.6 494.1h0.75v0.75h-0.75zM452.1 494.2h0.75v0.75h-0.75zM453.9 493.9h0.75v0.75h-0.75zM455.4 494.0h0.75v0.75h-0.75zM422.5 494.5h0.75v0.75h-0.75zM452.1 494.6h0.75v0.75h-0.75zM457.5 494.5h0.75v0.75h-0.75zM458.9 494.8h0.75v0.75h-0.75zM459.6 494.5h0.75v0.75h-0.75zM476.0 494.5h0.75v0.75h-0.75zM424.0 495.4h0.75v0.75h-0.75zM452.0 494.9h0.75v0.75h-0.75zM453.6 495.1h0.75v0.75h-0.75zM454.2 495.0h0.75v0.75h-0.75zM454.3 495.2h0.75v0.75h-0.75zM456.7 495.2h0.75v0.75h-0.75zM457.6 495.4h0.75v0.75h-0.75zM458.3 495.1h0.75v0.75h-0.75zM466.9 495.0h0.75v0.75h-0.75zM477.5 495.1h0.75v0.75h-0.75zM508.3 495.4h0.75v0.75h-0.75zM423.8 495.4h0.75v0.75h-0.75zM456.2 495.8h0.75v0.75h-0.75zM462.1 495.7h0.75v0.75h-0.75zM464.7 495.7h0.75v0.75h-0.75zM465.2 495.4h0.75v0.75h-0.75zM472.5 495.7h0.75v0.75h-0.75zM475.3 495.6h0.75v0.75h-0.75zM484.0 495.4h0.75v0.75h-0.75zM499.9 495.5h0.75v0.75h-0.75zM421.6 496.3h0.75v0.75h-0.75zM422.8 496.0h0.75v0.75h-0.75zM453.1 496.1h0.75v0.75h-0.75zM453.6 496.0h0.75v0.75h-0.75zM455.3 496.3h0.75v0.75h-0.75zM456.5 496.0h0.75v0.75h-0.75zM457.2 496.0h0.75v0.75h-0.75zM459.5 496.3h0.75v0.75h-0.75zM461.4 496.0h0.75v0.75h-0.75zM466.5 496.3h0.75v0.75h-0.75zM468.8 496.3h0.75v0.75h-0.75zM473.5 496.1h0.75v0.75h-0.75zM480.1 496.0h0.75v0.75h-0.75zM483.2 496.2h0.75v0.75h-0.75zM500.1 496.0h0.75v0.75h-0.75zM453.4 496.8h0.75v0.75h-0.75zM455.8 496.9h0.75v0.75h-0.75zM456.8 496.6h0.75v0.75h-0.75zM458.3 496.8h0.75v0.75h-0.75zM465.4 496.6h0.75v0.75h-0.75zM468.4 496.6h0.75v0.75h-0.75zM496.4 496.4h0.75v0.75h-0.75zM420.9 497.1h0.75v0.75h-0.75zM454.9 497.0h0.75v0.75h-0.75zM458.2 497.1h0.75v0.75h-0.75zM460.4 497.2h0.75v0.75h-0.75zM461.3 497.2h0.75v0.75h-0.75zM462.2 497.1h0.75v0.75h-0.75zM463.0 496.9h0.75v0.75h-0.75zM464.6 497.2h0.75v0.75h-0.75zM471.8 497.4h0.75v0.75h-0.75zM479.0 497.0h0.75v0.75h-0.75zM423.2 497.9h0.75v0.75h-0.75zM458.4 497.4h0.75v0.75h-0.75zM461.8 497.4h0.75v0.75h-0.75zM462.3 497.6h0.75v0.75h-0.75zM464.7 497.4h0.75v0.75h-0.75zM479.0 497.8h0.75v0.75h-0.75zM458.1 498.0h0.75v0.75h-0.75zM461.6 498.1h0.75v0.75h-0.75zM463.3 498.0h0.75v0.75h-0.75zM472.3 497.9h0.75v0.75h-0.75zM475.0 498.3h0.75v0.75h-0.75zM460.7 498.6h0.75v0.75h-0.75zM461.1 498.8h0.75v0.75h-0.75zM462.2 498.7h0.75v0.75h-0.75zM462.6 498.8h0.75v0.75h-0.75zM465.1 498.6h0.75v0.75h-0.75zM466.3 498.5h0.75v0.75h-0.75zM419.6 499.3h0.75v0.75h-0.75zM458.9 499.2h0.75v0.75h-0.75zM459.6 499.0h0.75v0.75h-0.75zM459.9 499.1h0.75v0.75h-0.75zM460.6 499.2h0.75v0.75h-0.75zM462.0 499.0h0.75v0.75h-0.75zM462.6 499.0h0.75v0.75h-0.75zM465.3 498.9h0.75v0.75h-0.75zM468.0 499.0h0.75v0.75h-0.75zM474.4 499.3h0.75v0.75h-0.75zM419.9 499.9h0.75v0.75h-0.75zM460.4 499.6h0.75v0.75h-0.75zM461.6 499.6h0.75v0.75h-0.75zM465.3 499.6h0.75v0.75h-0.75zM481.8 499.6h0.75v0.75h-0.75zM503.3 499.6h0.75v0.75h-0.75zM423.9 500.3h0.75v0.75h-0.75zM459.1 500.0h0.75v0.75h-0.75zM461.9 500.3h0.75v0.75h-0.75zM462.4 500.4h0.75v0.75h-0.75zM463.0 500.4h0.75v0.75h-0.75zM464.1 500.4h0.75v0.75h-0.75zM468.1 500.3h0.75v0.75h-0.75zM468.6 500.1h0.75v0.75h-0.75zM478.4 500.2h0.75v0.75h-0.75zM480.6 500.2h0.75v0.75h-0.75zM486.2 500.2h0.75v0.75h-0.75zM503.2 500.1h0.75v0.75h-0.75zM421.3 500.7h0.75v0.75h-0.75zM459.4 500.6h0.75v0.75h-0.75zM460.5 500.6h0.75v0.75h-0.75zM463.1 500.8h0.75v0.75h-0.75zM490.3 500.4h0.75v0.75h-0.75zM419.7 501.1h0.75v0.75h-0.75zM464.9 500.9h0.75v0.75h-0.75zM467.2 501.1h0.75v0.75h-0.75zM480.1 501.0h0.75v0.75h-0.75zM421.3 501.6h0.75v0.75h-0.75zM421.7 501.6h0.75v0.75h-0.75zM424.8 501.5h0.75v0.75h-0.75zM460.7 501.7h0.75v0.75h-0.75zM462.0 501.4h0.75v0.75h-0.75zM462.4 501.5h0.75v0.75h-0.75zM464.7 501.6h0.75v0.75h-0.75zM474.6 501.9h0.75v0.75h-0.75zM487.9 501.4h0.75v0.75h-0.75zM420.3 502.1h0.75v0.75h-0.75zM423.3 502.2h0.75v0.75h-0.75zM424.8 502.4h0.75v0.75h-0.75zM425.2 502.3h0.75v0.75h-0.75zM461.1 501.9h0.75v0.75h-0.75zM461.6 502.4h0.75v0.75h-0.75zM476.7 502.1h0.75v0.75h-0.75zM490.9 502.2h0.75v0.75h-0.75zM424.0 502.8h0.75v0.75h-0.75zM461.6 502.6h0.75v0.75h-0.75zM462.2 502.7h0.75v0.75h-0.75zM462.9 502.8h0.75v0.75h-0.75zM463.8 502.9h0.75v0.75h-0.75zM465.3 502.4h0.75v0.75h-0.75zM466.2 502.8h0.75v0.75h-0.75zM475.7 502.8h0.75v0.75h-0.75zM479.3 502.7h0.75v0.75h-0.75zM423.2 502.9h0.75v0.75h-0.75zM425.5 503.0h0.75v0.75h-0.75zM462.2 503.3h0.75v0.75h-0.75zM462.4 503.4h0.75v0.75h-0.75zM474.7 503.3h0.75v0.75h-0.75zM477.8 503.2h0.75v0.75h-0.75zM480.1 503.0h0.75v0.75h-0.75zM421.9 503.9h0.75v0.75h-0.75zM423.1 503.6h0.75v0.75h-0.75zM424.6 503.7h0.75v0.75h-0.75zM462.2 503.6h0.75v0.75h-0.75zM463.1 503.9h0.75v0.75h-0.75zM464.6 503.8h0.75v0.75h-0.75zM467.4 503.5h0.75v0.75h-0.75zM477.7 503.5h0.75v0.75h-0.75zM484.9 503.7h0.75v0.75h-0.75zM419.0 504.0h0.75v0.75h-0.75zM463.7 504.3h0.75v0.75h-0.75zM464.7 504.4h0.75v0.75h-0.75zM464.8 504.3h0.75v0.75h-0.75zM508.4 504.3h0.75v0.75h-0.75zM419.8 504.8h0.75v0.75h-0.75zM421.2 504.8h0.75v0.75h-0.75zM424.6 504.7h0.75v0.75h-0.75zM460.7 504.6h0.75v0.75h-0.75zM461.3 504.5h0.75v0.75h-0.75zM461.3 504.8h0.75v0.75h-0.75zM462.8 504.5h0.75v0.75h-0.75zM464.4 504.5h0.75v0.75h-0.75zM465.7 504.6h0.75v0.75h-0.75zM476.4 504.6h0.75v0.75h-0.75zM478.0 504.9h0.75v0.75h-0.75zM480.6 504.4h0.75v0.75h-0.75zM482.1 504.8h0.75v0.75h-0.75zM485.5 504.5h0.75v0.75h-0.75zM420.6 505.0h0.75v0.75h-0.75zM426.2 505.4h0.75v0.75h-0.75zM461.4 505.3h0.75v0.75h-0.75zM462.3 504.9h0.75v0.75h-0.75zM463.3 505.4h0.75v0.75h-0.75zM465.7 505.2h0.75v0.75h-0.75zM424.2 505.5h0.75v0.75h-0.75zM460.3 505.6h0.75v0.75h-0.75zM462.2 505.9h0.75v0.75h-0.75zM462.8 505.6h0.75v0.75h-0.75zM462.9 505.4h0.75v0.75h-0.75zM463.7 505.5h0.75v0.75h-0.75zM466.2 505.8h0.75v0.75h-0.75zM506.7 505.8h0.75v0.75h-0.75zM425.9 506.0h0.75v0.75h-0.75zM426.5 506.3h0.75v0.75h-0.75zM427.1 506.2h0.75v0.75h-0.75zM460.8 506.3h0.75v0.75h-0.75zM461.3 506.3h0.75v0.75h-0.75zM461.9 506.1h0.75v0.75h-0.75zM471.4 506.1h0.75v0.75h-0.75zM475.8 506.3h0.75v0.75h-0.75zM480.7 505.9h0.75v0.75h-0.75zM495.7 506.3h0.75v0.75h-0.75zM419.0 506.5h0.75v0.75h-0.75zM422.0 506.4h0.75v0.75h-0.75zM423.1 506.5h0.75v0.75h-0.75zM424.4 506.8h0.75v0.75h-0.75zM425.0 506.8h0.75v0.75h-0.75zM426.6 506.8h0.75v0.75h-0.75zM460.8 506.6h0.75v0.75h-0.75zM462.1 506.6h0.75v0.75h-0.75zM464.2 506.9h0.75v0.75h-0.75zM466.2 506.5h0.75v0.75h-0.75zM467.6 506.5h0.75v0.75h-0.75zM469.4 506.5h0.75v0.75h-0.75zM419.4 507.1h0.75v0.75h-0.75zM423.4 507.2h0.75v0.75h-0.75zM426.7 507.2h0.75v0.75h-0.75zM460.5 507.0h0.75v0.75h-0.75zM461.7 507.0h0.75v0.75h-0.75zM463.1 507.0h0.75v0.75h-0.75zM463.8 507.1h0.75v0.75h-0.75zM464.9 507.0h0.75v0.75h-0.75zM468.1 507.3h0.75v0.75h-0.75zM492.2 506.9h0.75v0.75h-0.75zM423.4 507.7h0.75v0.75h-0.75zM425.4 507.5h0.75v0.75h-0.75zM426.8 507.4h0.75v0.75h-0.75zM426.8 507.4h0.75v0.75h-0.75zM427.6 507.8h0.75v0.75h-0.75zM461.1 507.5h0.75v0.75h-0.75zM461.5 507.8h0.75v0.75h-0.75zM462.8 507.5h0.75v0.75h-0.75zM463.5 507.5h0.75v0.75h-0.75zM421.6 508.2h0.75v0.75h-0.75zM425.8 508.4h0.75v0.75h-0.75zM426.2 508.0h0.75v0.75h-0.75zM426.8 508.4h0.75v0.75h-0.75zM427.3 508.3h0.75v0.75h-0.75zM461.2 508.3h0.75v0.75h-0.75zM461.6 507.9h0.75v0.75h-0.75zM467.5 508.0h0.75v0.75h-0.75zM471.4 508.0h0.75v0.75h-0.75zM481.4 508.1h0.75v0.75h-0.75zM420.8 508.5h0.75v0.75h-0.75zM426.0 508.5h0.75v0.75h-0.75zM426.7 508.6h0.75v0.75h-0.75zM428.4 508.7h0.75v0.75h-0.75zM423.2 509.0h0.75v0.75h-0.75zM424.2 509.2h0.75v0.75h-0.75zM426.3 509.1h0.75v0.75h-0.75zM428.5 509.1h0.75v0.75h-0.75zM429.8 509.1h0.75v0.75h-0.75zM460.9 508.9h0.75v0.75h-0.75zM462.4 509.3h0.75v0.75h-0.75zM463.5 509.1h0.75v0.75h-0.75zM464.4 509.3h0.75v0.75h-0.75zM506.7 508.9h0.75v0.75h-0.75zM507.5 509.2h0.75v0.75h-0.75zM428.8 509.5h0.75v0.75h-0.75zM429.6 509.4h0.75v0.75h-0.75zM431.2 509.6h0.75v0.75h-0.75zM460.0 509.7h0.75v0.75h-0.75zM460.6 509.6h0.75v0.75h-0.75zM461.9 509.7h0.75v0.75h-0.75zM463.6 509.6h0.75v0.75h-0.75zM464.4 509.9h0.75v0.75h-0.75zM464.9 509.5h0.75v0.75h-0.75zM471.7 509.8h0.75v0.75h-0.75zM482.5 509.6h0.75v0.75h-0.75zM425.9 510.1h0.75v0.75h-0.75zM426.9 510.1h0.75v0.75h-0.75zM428.4 510.3h0.75v0.75h-0.75zM429.5 510.3h0.75v0.75h-0.75zM431.4 510.0h0.75v0.75h-0.75zM432.1 510.2h0.75v0.75h-0.75zM460.9 510.3h0.75v0.75h-0.75zM461.3 510.0h0.75v0.75h-0.75zM462.7 510.1h0.75v0.75h-0.75zM463.3 510.2h0.75v0.75h-0.75zM463.9 510.2h0.75v0.75h-0.75zM464.4 510.3h0.75v0.75h-0.75zM471.7 510.1h0.75v0.75h-0.75zM482.3 509.9h0.75v0.75h-0.75zM489.8 510.2h0.75v0.75h-0.75zM496.6 510.2h0.75v0.75h-0.75zM426.8 510.7h0.75v0.75h-0.75zM427.3 510.5h0.75v0.75h-0.75zM428.8 510.8h0.75v0.75h-0.75zM429.7 510.6h0.75v0.75h-0.75zM430.1 510.6h0.75v0.75h-0.75zM432.0 510.7h0.75v0.75h-0.75zM432.3 510.6h0.75v0.75h-0.75zM459.5 510.6h0.75v0.75h-0.75zM460.4 510.7h0.75v0.75h-0.75zM461.2 510.8h0.75v0.75h-0.75zM462.5 510.8h0.75v0.75h-0.75zM476.9 510.5h0.75v0.75h-0.75zM421.1 510.9h0.75v0.75h-0.75zM423.3 511.4h0.75v0.75h-0.75zM426.2 510.9h0.75v0.75h-0.75zM427.7 511.2h0.75v0.75h-0.75zM430.7 511.4h0.75v0.75h-0.75zM431.3 511.1h0.75v0.75h-0.75zM432.0 511.1h0.75v0.75h-0.75zM432.7 511.3h0.75v0.75h-0.75zM461.6 511.2h0.75v0.75h-0.75zM462.5 510.9h0.75v0.75h-0.75zM463.4 511.1h0.75v0.75h-0.75zM470.5 511.2h0.75v0.75h-0.75zM475.5 511.0h0.75v0.75h-0.75zM426.2 511.6h0.75v0.75h-0.75zM426.6 511.5h0.75v0.75h-0.75zM429.2 511.4h0.75v0.75h-0.75zM430.3 511.5h0.75v0.75h-0.75zM433.3 511.7h0.75v0.75h-0.75zM433.7 511.9h0.75v0.75h-0.75zM460.7 511.6h0.75v0.75h-0.75zM463.0 511.8h0.75v0.75h-0.75zM463.4 511.4h0.75v0.75h-0.75zM464.1 511.7h0.75v0.75h-0.75zM466.2 511.7h0.75v0.75h-0.75zM493.8 511.4h0.75v0.75h-0.75zM421.8 512.2h0.75v0.75h-0.75zM423.9 512.2h0.75v0.75h-0.75zM425.0 512.2h0.75v0.75h-0.75zM427.0 512.1h0.75v0.75h-0.75zM427.8 511.9h0.75v0.75h-0.75zM428.8 512.4h0.75v0.75h-0.75zM429.3 512.3h0.75v0.75h-0.75zM429.8 512.4h0.75v0.75h-0.75zM459.3 511.9h0.75v0.75h-0.75zM460.1 512.1h0.75v0.75h-0.75zM460.3 512.3h0.75v0.75h-0.75zM462.3 512.0h0.75v0.75h-0.75zM463.2 512.1h0.75v0.75h-0.75zM463.6 512.4h0.75v0.75h-0.75zM464.1 512.3h0.75v0.75h-0.75zM465.7 511.9h0.75v0.75h-0.75zM484.0 512.3h0.75v0.75h-0.75zM426.1 512.7h0.75v0.75h-0.75zM426.7 512.8h0.75v0.75h-0.75zM427.1 512.6h0.75v0.75h-0.75zM427.6 512.9h0.75v0.75h-0.75zM428.7 512.8h0.75v0.75h-0.75zM430.5 512.6h0.75v0.75h-0.75zM433.5 512.6h0.75v0.75h-0.75zM434.0 512.7h0.75v0.75h-0.75zM460.4 512.7h0.75v0.75h-0.75zM462.8 512.8h0.75v0.75h-0.75zM466.0 512.4h0.75v0.75h-0.75zM467.9 512.6h0.75v0.75h-0.75zM503.4 512.7h0.75v0.75h-0.75zM422.0 513.2h0.75v0.75h-0.75zM422.5 513.2h0.75v0.75h-0.75zM423.3 513.0h0.75v0.75h-0.75zM424.1 513.1h0.75v0.75h-0.75zM425.2 513.3h0.75v0.75h-0.75zM425.9 513.0h0.75v0.75h-0.75zM426.9 513.2h0.75v0.75h-0.75zM427.3 513.3h0.75v0.75h-0.75zM428.2 513.0h0.75v0.75h-0.75zM428.7 513.0h0.75v0.75h-0.75zM429.6 512.9h0.75v0.75h-0.75zM431.5 512.9h0.75v0.75h-0.75zM432.7 513.3h0.75v0.75h-0.75zM434.3 512.9h0.75v0.75h-0.75zM461.5 513.2h0.75v0.75h-0.75zM461.8 513.1h0.75v0.75h-0.75zM462.9 513.1h0.75v0.75h-0.75zM475.3 513.1h0.75v0.75h-0.75zM491.3 513.1h0.75v0.75h-0.75zM421.9 513.6h0.75v0.75h-0.75zM424.5 513.6h0.75v0.75h-0.75zM425.9 513.4h0.75v0.75h-0.75zM426.9 513.5h0.75v0.75h-0.75zM434.4 513.8h0.75v0.75h-0.75zM460.6 513.8h0.75v0.75h-0.75zM462.3 513.8h0.75v0.75h-0.75zM463.7 513.4h0.75v0.75h-0.75zM468.3 513.7h0.75v0.75h-0.75zM471.7 513.7h0.75v0.75h-0.75zM475.1 513.8h0.75v0.75h-0.75zM480.1 513.9h0.75v0.75h-0.75zM426.7 514.4h0.75v0.75h-0.75zM427.1 514.2h0.75v0.75h-0.75zM427.8 514.0h0.75v0.75h-0.75zM429.2 514.3h0.75v0.75h-0.75zM430.7 514.0h0.75v0.75h-0.75zM432.4 514.4h0.75v0.75h-0.75zM434.1 514.3h0.75v0.75h-0.75zM458.8 514.0h0.75v0.75h-0.75zM458.8 514.0h0.75v0.75h-0.75zM460.6 513.9h0.75v0.75h-0.75zM463.6 514.2h0.75v0.75h-0.75zM468.0 514.3h0.75v0.75h-0.75zM505.7 514.0h0.75v0.75h-0.75zM422.7 514.7h0.75v0.75h-0.75zM422.9 514.4h0.75v0.75h-0.75zM424.6 514.5h0.75v0.75h-0.75zM425.2 514.4h0.75v0.75h-0.75zM427.9 514.6h0.75v0.75h-0.75zM429.4 514.9h0.75v0.75h-0.75zM430.2 514.8h0.75v0.75h-0.75zM430.8 514.9h0.75v0.75h-0.75zM431.6 514.8h0.75v0.75h-0.75zM431.9 514.6h0.75v0.75h-0.75zM433.1 514.9h0.75v0.75h-0.75zM434.0 514.7h0.75v0.75h-0.75zM459.0 514.7h0.75v0.75h-0.75zM460.2 514.7h0.75v0.75h-0.75zM460.3 514.5h0.75v0.75h-0.75zM462.1 514.7h0.75v0.75h-0.75zM463.9 514.4h0.75v0.75h-0.75zM469.2 514.7h0.75v0.75h-0.75zM420.8 514.9h0.75v0.75h-0.75zM421.7 514.9h0.75v0.75h-0.75zM421.9 515.2h0.75v0.75h-0.75zM422.5 515.3h0.75v0.75h-0.75zM424.3 515.3h0.75v0.75h-0.75zM426.6 515.4h0.75v0.75h-0.75zM428.2 514.9h0.75v0.75h-0.75zM432.7 515.4h0.75v0.75h-0.75zM461.5 515.1h0.75v0.75h-0.75zM464.0 514.9h0.75v0.75h-0.75zM464.9 515.1h0.75v0.75h-0.75zM473.1 515.1h0.75v0.75h-0.75zM473.6 515.2h0.75v0.75h-0.75zM474.0 515.3h0.75v0.75h-0.75zM502.4 515.1h0.75v0.75h-0.75zM420.9 515.7h0.75v0.75h-0.75zM424.5 515.6h0.75v0.75h-0.75zM426.6 515.8h0.75v0.75h-0.75zM429.7 515.6h0.75v0.75h-0.75zM430.6 515.7h0.75v0.75h-0.75zM431.1 515.5h0.75v0.75h-0.75zM432.5 515.8h0.75v0.75h-0.75zM433.7 515.8h0.75v0.75h-0.75zM434.1 515.4h0.75v0.75h-0.75zM435.0 515.5h0.75v0.75h-0.75zM458.2 515.6h0.75v0.75h-0.75zM458.3 515.5h0.75v0.75h-0.75zM460.2 515.5h0.75v0.75h-0.75zM462.2 515.8h0.75v0.75h-0.75zM463.3 515.5h0.75v0.75h-0.75zM500.0 515.6h0.75v0.75h-0.75zM507.7 515.8h0.75v0.75h-0.75zM421.9 515.9h0.75v0.75h-0.75zM423.1 516.2h0.75v0.75h-0.75zM425.8 516.3h0.75v0.75h-0.75zM428.7 516.1h0.75v0.75h-0.75zM430.9 516.2h0.75v0.75h-0.75zM431.6 516.0h0.75v0.75h-0.75zM434.9 516.2h0.75v0.75h-0.75zM459.1 515.9h0.75v0.75h-0.75zM462.5 516.0h0.75v0.75h-0.75zM465.0 516.0h0.75v0.75h-0.75zM479.5 516.2h0.75v0.75h-0.75zM507.7 515.9h0.75v0.75h-0.75zM420.8 516.9h0.75v0.75h-0.75zM422.1 516.8h0.75v0.75h-0.75zM423.2 516.5h0.75v0.75h-0.75zM423.9 516.6h0.75v0.75h-0.75zM424.6 516.9h0.75v0.75h-0.75zM427.1 516.9h0.75v0.75h-0.75zM427.7 516.7h0.75v0.75h-0.75zM428.7 516.7h0.75v0.75h-0.75zM429.1 516.9h0.75v0.75h-0.75zM433.5 516.7h0.75v0.75h-0.75zM434.9 516.8h0.75v0.75h-0.75zM435.7 516.9h0.75v0.75h-0.75zM459.1 516.5h0.75v0.75h-0.75zM459.7 516.7h0.75v0.75h-0.75zM461.1 516.5h0.75v0.75h-0.75zM462.7 516.8h0.75v0.75h-0.75zM468.3 516.7h0.75v0.75h-0.75zM483.2 516.9h0.75v0.75h-0.75zM421.3 517.0h0.75v0.75h-0.75zM421.5 517.4h0.75v0.75h-0.75zM425.6 517.4h0.75v0.75h-0.75zM427.3 517.2h0.75v0.75h-0.75zM427.9 517.3h0.75v0.75h-0.75zM428.3 517.3h0.75v0.75h-0.75zM429.3 517.0h0.75v0.75h-0.75zM429.8 516.9h0.75v0.75h-0.75zM430.5 517.0h0.75v0.75h-0.75zM432.5 517.0h0.75v0.75h-0.75zM433.8 517.0h0.75v0.75h-0.75zM433.9 517.4h0.75v0.75h-0.75zM435.5 517.0h0.75v0.75h-0.75zM458.7 517.4h0.75v0.75h-0.75zM459.0 516.9h0.75v0.75h-0.75zM462.0 517.0h0.75v0.75h-0.75zM467.7 517.1h0.75v0.75h-0.75zM419.1 517.7h0.75v0.75h-0.75zM421.0 517.9h0.75v0.75h-0.75zM422.8 517.9h0.75v0.75h-0.75zM423.1 517.5h0.75v0.75h-0.75zM423.4 517.8h0.75v0.75h-0.75zM424.3 517.4h0.75v0.75h-0.75zM426.5 517.8h0.75v0.75h-0.75zM427.8 517.7h0.75v0.75h-0.75zM431.2 517.6h0.75v0.75h-0.75zM432.2 517.5h0.75v0.75h-0.75zM432.9 517.6h0.75v0.75h-0.75zM435.2 517.6h0.75v0.75h-0.75zM462.9 517.9h0.75v0.75h-0.75zM466.0 517.5h0.75v0.75h-0.75zM466.5 517.9h0.75v0.75h-0.75zM422.2 517.9h0.75v0.75h-0.75zM423.6 518.3h0.75v0.75h-0.75zM424.9 518.1h0.75v0.75h-0.75zM425.9 518.1h0.75v0.75h-0.75zM428.4 518.3h0.75v0.75h-0.75zM430.5 518.0h0.75v0.75h-0.75zM430.9 518.1h0.75v0.75h-0.75zM432.4 517.9h0.75v0.75h-0.75zM432.9 518.2h0.75v0.75h-0.75zM433.8 518.1h0.75v0.75h-0.75zM434.5 518.0h0.75v0.75h-0.75zM436.4 518.2h0.75v0.75h-0.75zM457.8 518.2h0.75v0.75h-0.75zM462.0 518.0h0.75v0.75h-0.75zM464.2 518.1h0.75v0.75h-0.75zM478.7 517.9h0.75v0.75h-0.75zM423.2 518.8h0.75v0.75h-0.75zM424.3 518.5h0.75v0.75h-0.75zM425.0 518.9h0.75v0.75h-0.75zM425.4 518.8h0.75v0.75h-0.75zM426.2 518.5h0.75v0.75h-0.75zM426.6 518.4h0.75v0.75h-0.75zM427.3 518.9h0.75v0.75h-0.75zM428.3 518.7h0.75v0.75h-0.75zM429.0 518.4h0.75v0.75h-0.75zM430.3 518.5h0.75v0.75h-0.75zM431.0 518.7h0.75v0.75h-0.75zM433.0 518.4h0.75v0.75h-0.75zM433.6 518.5h0.75v0.75h-0.75zM434.0 518.9h0.75v0.75h-0.75zM434.5 518.6h0.75v0.75h-0.75zM435.2 518.8h0.75v0.75h-0.75zM436.4 518.6h0.75v0.75h-0.75zM462.4 518.7h0.75v0.75h-0.75zM470.5 518.7h0.75v0.75h-0.75zM473.9 518.7h0.75v0.75h-0.75zM475.4 518.7h0.75v0.75h-0.75zM496.8 518.7h0.75v0.75h-0.75zM420.9 519.0h0.75v0.75h-0.75zM424.3 519.3h0.75v0.75h-0.75zM426.0 519.2h0.75v0.75h-0.75zM426.4 519.0h0.75v0.75h-0.75zM427.2 518.9h0.75v0.75h-0.75zM427.4 519.3h0.75v0.75h-0.75zM429.2 519.1h0.75v0.75h-0.75zM430.1 519.2h0.75v0.75h-0.75zM431.7 519.0h0.75v0.75h-0.75zM432.1 519.1h0.75v0.75h-0.75zM433.5 518.9h0.75v0.75h-0.75zM436.0 519.4h0.75v0.75h-0.75zM436.5 519.0h0.75v0.75h-0.75zM458.2 519.0h0.75v0.75h-0.75zM463.1 519.1h0.75v0.75h-0.75zM463.8 519.3h0.75v0.75h-0.75zM479.8 519.0h0.75v0.75h-0.75zM480.6 518.9h0.75v0.75h-0.75zM425.5 519.8h0.75v0.75h-0.75zM426.0 519.7h0.75v0.75h-0.75zM426.7 519.6h0.75v0.75h-0.75zM428.0 519.8h0.75v0.75h-0.75zM429.4 519.5h0.75v0.75h-0.75zM430.4 519.8h0.75v0.75h-0.75zM431.7 519.6h0.75v0.75h-0.75zM433.0 519.8h0.75v0.75h-0.75zM434.0 519.8h0.75v0.75h-0.75zM435.0 519.9h0.75v0.75h-0.75zM436.0 519.4h0.75v0.75h-0.75zM465.7 519.5h0.75v0.75h-0.75zM423.9 520.2h0.75v0.75h-0.75zM424.3 520.3h0.75v0.75h-0.75zM425.2 520.1h0.75v0.75h-0.75zM426.0 519.9h0.75v0.75h-0.75zM427.0 520.1h0.75v0.75h-0.75zM427.6 520.0h0.75v0.75h-0.75zM428.5 520.1h0.75v0.75h-0.75zM429.1 520.3h0.75v0.75h-0.75zM430.5 520.3h0.75v0.75h-0.75zM431.2 520.2h0.75v0.75h-0.75zM432.7 520.2h0.75v0.75h-0.75zM433.6 520.2h0.75v0.75h-0.75zM434.5 520.3h0.75v0.75h-0.75zM435.6 520.1h0.75v0.75h-0.75zM436.3 520.4h0.75v0.75h-0.75zM464.7 520.3h0.75v0.75h-0.75zM466.2 520.0h0.75v0.75h-0.75zM492.8 520.4h0.75v0.75h-0.75zM504.5 520.4h0.75v0.75h-0.75zM421.5 520.6h0.75v0.75h-0.75zM423.8 520.7h0.75v0.75h-0.75zM426.1 520.8h0.75v0.75h-0.75zM428.5 520.6h0.75v0.75h-0.75zM429.7 520.6h0.75v0.75h-0.75zM430.6 520.6h0.75v0.75h-0.75zM431.3 520.7h0.75v0.75h-0.75zM432.0 520.7h0.75v0.75h-0.75zM434.7 520.8h0.75v0.75h-0.75zM434.9 520.4h0.75v0.75h-0.75zM435.9 520.8h0.75v0.75h-0.75zM437.0 520.7h0.75v0.75h-0.75zM457.9 520.6h0.75v0.75h-0.75zM464.5 520.8h0.75v0.75h-0.75zM465.0 520.8h0.75v0.75h-0.75zM469.0 520.9h0.75v0.75h-0.75zM471.1 520.8h0.75v0.75h-0.75zM427.1 521.1h0.75v0.75h-0.75zM427.5 521.3h0.75v0.75h-0.75zM431.3 521.2h0.75v0.75h-0.75zM431.6 521.3h0.75v0.75h-0.75zM432.0 521.3h0.75v0.75h-0.75zM433.3 521.1h0.75v0.75h-0.75zM437.2 521.2h0.75v0.75h-0.75zM463.3 521.1h0.75v0.75h-0.75zM476.0 521.3h0.75v0.75h-0.75zM419.9 521.5h0.75v0.75h-0.75zM422.9 521.5h0.75v0.75h-0.75zM424.2 521.8h0.75v0.75h-0.75zM425.5 521.4h0.75v0.75h-0.75zM425.9 521.6h0.75v0.75h-0.75zM428.5 521.6h0.75v0.75h-0.75zM430.5 521.6h0.75v0.75h-0.75zM432.6 521.5h0.75v0.75h-0.75zM433.2 521.6h0.75v0.75h-0.75zM436.0 521.8h0.75v0.75h-0.75zM457.6 521.6h0.75v0.75h-0.75zM457.9 521.8h0.75v0.75h-0.75zM459.9 521.6h0.75v0.75h-0.75zM491.6 521.5h0.75v0.75h-0.75zM508.2 521.4h0.75v0.75h-0.75zM422.7 522.0h0.75v0.75h-0.75zM422.9 521.9h0.75v0.75h-0.75zM423.4 522.0h0.75v0.75h-0.75zM424.1 522.1h0.75v0.75h-0.75zM424.7 522.4h0.75v0.75h-0.75zM424.9 521.9h0.75v0.75h-0.75zM429.0 522.2h0.75v0.75h-0.75zM429.5 522.3h0.75v0.75h-0.75zM429.9 522.4h0.75v0.75h-0.75zM430.5 522.4h0.75v0.75h-0.75zM431.1 522.0h0.75v0.75h-0.75zM431.8 522.1h0.75v0.75h-0.75zM432.8 522.1h0.75v0.75h-0.75zM433.3 522.3h0.75v0.75h-0.75zM434.9 522.3h0.75v0.75h-0.75zM435.7 522.1h0.75v0.75h-0.75zM435.9 521.9h0.75v0.75h-0.75zM437.0 522.3h0.75v0.75h-0.75zM457.7 522.1h0.75v0.75h-0.75zM458.2 522.2h0.75v0.75h-0.75zM459.0 522.2h0.75v0.75h-0.75zM459.8 522.3h0.75v0.75h-0.75zM502.7 522.2h0.75v0.75h-0.75zM426.3 522.6h0.75v0.75h-0.75zM428.2 522.6h0.75v0.75h-0.75zM428.7 522.5h0.75v0.75h-0.75zM431.2 522.7h0.75v0.75h-0.75zM431.9 522.8h0.75v0.75h-0.75zM433.5 522.6h0.75v0.75h-0.75zM458.7 522.9h0.75v0.75h-0.75zM479.7 522.9h0.75v0.75h-0.75zM480.7 522.8h0.75v0.75h-0.75zM419.8 522.9h0.75v0.75h-0.75zM422.9 523.3h0.75v0.75h-0.75zM424.6 523.4h0.75v0.75h-0.75zM426.1 523.2h0.75v0.75h-0.75zM427.2 523.3h0.75v0.75h-0.75zM427.6 523.0h0.75v0.75h-0.75zM430.7 523.0h0.75v0.75h-0.75zM431.1 523.2h0.75v0.75h-0.75zM433.7 523.0h0.75v0.75h-0.75zM434.2 523.2h0.75v0.75h-0.75zM434.7 523.3h0.75v0.75h-0.75zM458.1 523.0h0.75v0.75h-0.75zM458.5 523.3h0.75v0.75h-0.75zM462.8 523.1h0.75v0.75h-0.75zM474.1 523.2h0.75v0.75h-0.75zM478.8 523.1h0.75v0.75h-0.75zM504.4 523.2h0.75v0.75h-0.75zM423.7 523.6h0.75v0.75h-0.75zM424.7 523.4h0.75v0.75h-0.75zM426.5 523.8h0.75v0.75h-0.75zM427.9 523.7h0.75v0.75h-0.75zM430.7 523.7h0.75v0.75h-0.75zM431.0 523.6h0.75v0.75h-0.75zM431.9 523.5h0.75v0.75h-0.75zM433.3 523.8h0.75v0.75h-0.75zM433.3 523.7h0.75v0.75h-0.75zM435.8 523.7h0.75v0.75h-0.75zM435.8 523.7h0.75v0.75h-0.75zM458.9 523.6h0.75v0.75h-0.75zM465.8 523.5h0.75v0.75h-0.75zM471.9 523.4h0.75v0.75h-0.75zM502.1 523.5h0.75v0.75h-0.75zM421.2 524.1h0.75v0.75h-0.75zM423.5 523.9h0.75v0.75h-0.75zM425.0 524.2h0.75v0.75h-0.75zM426.1 523.9h0.75v0.75h-0.75zM426.5 524.3h0.75v0.75h-0.75zM426.9 524.2h0.75v0.75h-0.75zM429.0 524.3h0.75v0.75h-0.75zM431.3 524.1h0.75v0.75h-0.75zM432.8 524.2h0.75v0.75h-0.75zM434.3 524.3h0.75v0.75h-0.75zM435.7 524.2h0.75v0.75h-0.75zM435.8 524.3h0.75v0.75h-0.75zM436.6 524.4h0.75v0.75h-0.75zM437.0 524.3h0.75v0.75h-0.75zM458.5 523.9h0.75v0.75h-0.75zM460.9 524.1h0.75v0.75h-0.75zM465.7 524.4h0.75v0.75h-0.75zM487.7 524.1h0.75v0.75h-0.75zM425.8 524.9h0.75v0.75h-0.75zM426.8 524.7h0.75v0.75h-0.75zM427.8 524.6h0.75v0.75h-0.75zM428.6 524.6h0.75v0.75h-0.75zM430.4 524.6h0.75v0.75h-0.75zM432.0 524.5h0.75v0.75h-0.75zM457.5 524.4h0.75v0.75h-0.75zM479.5 524.4h0.75v0.75h-0.75zM495.7 524.5h0.75v0.75h-0.75zM420.4 525.2h0.75v0.75h-0.75zM421.9 525.1h0.75v0.75h-0.75zM424.2 524.9h0.75v0.75h-0.75zM424.4 525.1h0.75v0.75h-0.75zM424.8 525.0h0.75v0.75h-0.75zM428.3 525.3h0.75v0.75h-0.75zM430.4 525.1h0.75v0.75h-0.75zM431.1 525.4h0.75v0.75h-0.75zM432.4 525.1h0.75v0.75h-0.75zM433.2 524.9h0.75v0.75h-0.75zM434.5 525.1h0.75v0.75h-0.75zM435.4 525.2h0.75v0.75h-0.75zM435.8 525.1h0.75v0.75h-0.75zM457.5 525.4h0.75v0.75h-0.75zM458.0 525.0h0.75v0.75h-0.75zM458.7 525.2h0.75v0.75h-0.75zM463.2 525.1h0.75v0.75h-0.75zM463.3 525.0h0.75v0.75h-0.75zM468.5 525.3h0.75v0.75h-0.75zM420.8 525.6h0.75v0.75h-0.75zM421.5 525.7h0.75v0.75h-0.75zM423.3 525.6h0.75v0.75h-0.75zM427.2 525.9h0.75v0.75h-0.75zM427.5 525.7h0.75v0.75h-0.75zM428.0 525.8h0.75v0.75h-0.75zM430.7 525.4h0.75v0.75h-0.75zM431.0 525.8h0.75v0.75h-0.75zM432.2 525.9h0.75v0.75h-0.75zM456.9 525.8h0.75v0.75h-0.75zM461.7 525.8h0.75v0.75h-0.75zM499.2 525.8h0.75v0.75h-0.75zM422.8 526.1h0.75v0.75h-0.75zM423.6 526.1h0.75v0.75h-0.75zM424.1 526.0h0.75v0.75h-0.75zM426.0 526.3h0.75v0.75h-0.75zM426.5 526.1h0.75v0.75h-0.75zM427.9 526.1h0.75v0.75h-0.75zM428.8 526.3h0.75v0.75h-0.75zM429.3 526.1h0.75v0.75h-0.75zM432.9 526.3h0.75v0.75h-0.75zM433.7 526.3h0.75v0.75h-0.75zM437.5 526.1h0.75v0.75h-0.75zM462.4 526.0h0.75v0.75h-0.75zM464.7 525.9h0.75v0.75h-0.75zM476.6 526.3h0.75v0.75h-0.75zM486.0 526.4h0.75v0.75h-0.75zM494.7 526.2h0.75v0.75h-0.75zM420.5 526.5h0.75v0.75h-0.75zM429.3 526.7h0.75v0.75h-0.75zM432.9 526.8h0.75v0.75h-0.75zM435.4 526.4h0.75v0.75h-0.75zM436.4 526.6h0.75v0.75h-0.75zM437.4 526.7h0.75v0.75h-0.75zM458.3 526.6h0.75v0.75h-0.75zM463.5 526.6h0.75v0.75h-0.75zM465.8 526.5h0.75v0.75h-0.75zM466.9 526.5h0.75v0.75h-0.75zM470.4 526.9h0.75v0.75h-0.75zM424.9 527.0h0.75v0.75h-0.75zM435.8 527.4h0.75v0.75h-0.75zM436.4 527.2h0.75v0.75h-0.75zM457.2 527.1h0.75v0.75h-0.75zM461.0 527.0h0.75v0.75h-0.75zM467.8 527.4h0.75v0.75h-0.75zM478.2 527.0h0.75v0.75h-0.75zM479.3 527.4h0.75v0.75h-0.75zM503.3 526.9h0.75v0.75h-0.75zM508.5 527.3h0.75v0.75h-0.75zM422.0 527.8h0.75v0.75h-0.75zM424.2 527.8h0.75v0.75h-0.75zM424.6 527.7h0.75v0.75h-0.75zM425.4 527.8h0.75v0.75h-0.75zM427.2 527.7h0.75v0.75h-0.75zM428.7 527.6h0.75v0.75h-0.75zM429.5 527.8h0.75v0.75h-0.75zM434.8 527.9h0.75v0.75h-0.75zM437.2 527.8h0.75v0.75h-0.75zM457.6 527.4h0.75v0.75h-0.75zM464.4 527.9h0.75v0.75h-0.75zM466.4 527.7h0.75v0.75h-0.75zM480.8 527.6h0.75v0.75h-0.75zM488.0 527.9h0.75v0.75h-0.75zM422.7 528.2h0.75v0.75h-0.75zM429.4 528.0h0.75v0.75h-0.75zM430.3 527.9h0.75v0.75h-0.75zM430.8 528.1h0.75v0.75h-0.75zM434.0 527.9h0.75v0.75h-0.75zM437.3 527.9h0.75v0.75h-0.75zM438.1 528.2h0.75v0.75h-0.75zM438.8 528.1h0.75v0.75h-0.75zM457.7 528.1h0.75v0.75h-0.75zM462.3 528.2h0.75v0.75h-0.75zM477.5 527.9h0.75v0.75h-0.75zM496.8 528.2h0.75v0.75h-0.75zM421.1 528.6h0.75v0.75h-0.75zM422.9 528.6h0.75v0.75h-0.75zM423.6 528.7h0.75v0.75h-0.75zM424.1 528.8h0.75v0.75h-0.75zM426.6 528.5h0.75v0.75h-0.75zM427.3 528.5h0.75v0.75h-0.75zM427.8 528.6h0.75v0.75h-0.75zM430.5 528.9h0.75v0.75h-0.75zM433.4 528.6h0.75v0.75h-0.75zM435.4 528.8h0.75v0.75h-0.75zM436.3 528.5h0.75v0.75h-0.75zM437.5 528.7h0.75v0.75h-0.75zM467.0 528.7h0.75v0.75h-0.75zM476.3 528.7h0.75v0.75h-0.75zM420.8 529.2h0.75v0.75h-0.75zM423.3 529.0h0.75v0.75h-0.75zM427.5 529.0h0.75v0.75h-0.75zM428.3 529.0h0.75v0.75h-0.75zM430.0 528.9h0.75v0.75h-0.75zM430.6 529.3h0.75v0.75h-0.75zM431.2 529.3h0.75v0.75h-0.75zM433.1 529.1h0.75v0.75h-0.75zM434.9 529.2h0.75v0.75h-0.75zM436.5 529.3h0.75v0.75h-0.75zM437.4 529.4h0.75v0.75h-0.75zM456.1 529.4h0.75v0.75h-0.75zM460.0 529.1h0.75v0.75h-0.75zM484.4 529.2h0.75v0.75h-0.75zM427.7 529.5h0.75v0.75h-0.75zM427.8 529.7h0.75v0.75h-0.75zM431.1 529.8h0.75v0.75h-0.75zM431.7 529.7h0.75v0.75h-0.75zM433.0 529.8h0.75v0.75h-0.75zM436.6 529.7h0.75v0.75h-0.75zM436.8 529.7h0.75v0.75h-0.75zM439.3 529.8h0.75v0.75h-0.75zM460.6 529.5h0.75v0.75h-0.75zM463.7 529.4h0.75v0.75h-0.75zM421.7 530.4h0.75v0.75h-0.75zM424.5 530.3h0.75v0.75h-0.75zM431.5 530.0h0.75v0.75h-0.75zM431.9 530.4h0.75v0.75h-0.75zM434.4 530.1h0.75v0.75h-0.75zM437.5 530.4h0.75v0.75h-0.75zM464.3 530.2h0.75v0.75h-0.75zM477.9 530.2h0.75v0.75h-0.75zM498.2 530.2h0.75v0.75h-0.75zM419.4 530.4h0.75v0.75h-0.75zM422.1 530.9h0.75v0.75h-0.75zM425.0 530.8h0.75v0.75h-0.75zM425.9 530.6h0.75v0.75h-0.75zM428.7 530.5h0.75v0.75h-0.75zM433.5 530.6h0.75v0.75h-0.75zM434.0 530.7h0.75v0.75h-0.75zM435.8 530.6h0.75v0.75h-0.75zM437.0 530.7h0.75v0.75h-0.75zM438.4 530.8h0.75v0.75h-0.75zM439.0 530.7h0.75v0.75h-0.75zM455.7 530.5h0.75v0.75h-0.75zM462.9 530.6h0.75v0.75h-0.75zM419.8 531.2h0.75v0.75h-0.75zM420.3 531.1h0.75v0.75h-0.75zM420.6 530.9h0.75v0.75h-0.75zM427.8 531.1h0.75v0.75h-0.75zM433.2 531.3h0.75v0.75h-0.75zM437.6 531.0h0.75v0.75h-0.75zM456.0 531.2h0.75v0.75h-0.75zM456.9 531.4h0.75v0.75h-0.75zM457.6 531.2h0.75v0.75h-0.75zM463.2 531.2h0.75v0.75h-0.75zM480.3 531.1h0.75v0.75h-0.75zM420.4 531.9h0.75v0.75h-0.75zM421.0 531.6h0.75v0.75h-0.75zM424.3 531.6h0.75v0.75h-0.75zM424.4 531.6h0.75v0.75h-0.75zM427.8 531.6h0.75v0.75h-0.75zM429.5 531.6h0.75v0.75h-0.75zM433.7 531.6h0.75v0.75h-0.75zM434.0 531.7h0.75v0.75h-0.75zM436.9 531.4h0.75v0.75h-0.75zM457.3 531.9h0.75v0.75h-0.75zM467.1 531.8h0.75v0.75h-0.75zM421.1 532.0h0.75v0.75h-0.75zM429.8 532.0h0.75v0.75h-0.75zM433.2 531.9h0.75v0.75h-0.75zM436.5 532.1h0.75v0.75h-0.75zM439.8 532.0h0.75v0.75h-0.75zM455.9 532.0h0.75v0.75h-0.75zM457.3 532.2h0.75v0.75h-0.75zM467.0 532.2h0.75v0.75h-0.75zM482.1 532.0h0.75v0.75h-0.75z" fill="#222"/>
<line x1="460.70" y1="447.90" x2="460.70" y2="533.60" stroke="#3c3c3c" stroke-width="0.9"/>
<line x1="481.00" y1="447.90" x2="481.00" y2="533.60" stroke="#3c3c3c" stroke-width="0.9"/>
<rect x="418.30" y="447.90" width="91.90" height="85.70" fill="none" stroke="#222" stroke-width="1"/>
<text x="437.00" y="458.90" font-size="6.3" text-anchor="middle" fill="#111" font-weight="bold" >GFP<tspan dy="-2" font-size="3.8">-</tspan></text>
<text x="438.00" y="466.60" font-size="6.3" text-anchor="middle" fill="#111" font-weight="bold" >99.6 %</text>
<text x="469.00" y="458.90" font-size="6.3" text-anchor="middle" fill="#111" font-weight="bold" >GFP<tspan dy="-2" font-size="3.8">lo</tspan></text>
<text x="470.00" y="466.60" font-size="6.3" text-anchor="middle" fill="#111" font-weight="bold" >0.3 %</text>
<text x="494.50" y="458.90" font-size="6.3" text-anchor="middle" fill="#111" font-weight="bold" >GFP<tspan dy="-2" font-size="3.8">hi</tspan></text>
<text x="497.00" y="466.60" font-size="6.3" text-anchor="middle" fill="#111" font-weight="bold" >0.1 %</text>
<polygon points="422,506 428,506.5 433.4,511 437.2,518.5 438.2,526 440.5,533 419.5,533 419.5,518" fill="#333" fill-opacity="0.35" filter="url(#bl2)"/>
<text x="412.30" y="458.20" font-size="6.1" text-anchor="end" fill="#111" stroke="#111" stroke-width="0.1" >10<tspan dy="-2.4" font-size="4.2">5</tspan></text>
<text x="412.30" y="478.20" font-size="6.1" text-anchor="end" fill="#111" stroke="#111" stroke-width="0.1" >10<tspan dy="-2.4" font-size="4.2">4</tspan></text>
<text x="412.30" y="499.00" font-size="6.1" text-anchor="end" fill="#111" stroke="#111" stroke-width="0.1" >10<tspan dy="-2.4" font-size="4.2">3</tspan></text>
<text x="412.30" y="515.60" font-size="6.1" text-anchor="end" fill="#111" stroke="#111" stroke-width="0.1" >10<tspan dy="-2.4" font-size="4.2">2</tspan></text>
<text x="412.30" y="522.40" font-size="6.1" text-anchor="end" fill="#111" stroke="#111" stroke-width="0.1" >0</text>
<text x="412.30" y="529.40" font-size="6.1" text-anchor="end" fill="#111" stroke="#111" stroke-width="0.1" >-10<tspan dy="-2.4" font-size="4.2">2</tspan></text>
<line x1="415.50" y1="456.80" x2="418.30" y2="456.80" stroke="#222" stroke-width="0.8"/>
<line x1="415.50" y1="475.50" x2="418.30" y2="475.50" stroke="#222" stroke-width="0.8"/>
<line x1="415.50" y1="496.20" x2="418.30" y2="496.20" stroke="#222" stroke-width="0.8"/>
<line x1="415.50" y1="515.60" x2="418.30" y2="515.60" stroke="#222" stroke-width="0.8"/>
<line x1="415.50" y1="520.50" x2="418.30" y2="520.50" stroke="#222" stroke-width="0.8"/>
<line x1="415.50" y1="525.60" x2="418.30" y2="525.60" stroke="#222" stroke-width="0.8"/>
<line x1="416.80" y1="469.87" x2="418.30" y2="469.87" stroke="#222" stroke-width="0.5"/>
<line x1="416.80" y1="466.58" x2="418.30" y2="466.58" stroke="#222" stroke-width="0.5"/>
<line x1="416.80" y1="464.24" x2="418.30" y2="464.24" stroke="#222" stroke-width="0.5"/>
<line x1="416.80" y1="462.43" x2="418.30" y2="462.43" stroke="#222" stroke-width="0.5"/>
<line x1="416.80" y1="460.95" x2="418.30" y2="460.95" stroke="#222" stroke-width="0.5"/>
<line x1="416.80" y1="459.70" x2="418.30" y2="459.70" stroke="#222" stroke-width="0.5"/>
<line x1="416.80" y1="458.61" x2="418.30" y2="458.61" stroke="#222" stroke-width="0.5"/>
<line x1="416.80" y1="457.66" x2="418.30" y2="457.66" stroke="#222" stroke-width="0.5"/>
<line x1="416.80" y1="489.97" x2="418.30" y2="489.97" stroke="#222" stroke-width="0.5"/>
<line x1="416.80" y1="486.32" x2="418.30" y2="486.32" stroke="#222" stroke-width="0.5"/>
<line x1="416.80" y1="483.74" x2="418.30" y2="483.74" stroke="#222" stroke-width="0.5"/>
<line x1="416.80" y1="481.73" x2="418.30" y2="481.73" stroke="#222" stroke-width="0.5"/>
<line x1="416.80" y1="480.09" x2="418.30" y2="480.09" stroke="#222" stroke-width="0.5"/>
<line x1="416.80" y1="478.71" x2="418.30" y2="478.71" stroke="#222" stroke-width="0.5"/>
<line x1="416.80" y1="477.51" x2="418.30" y2="477.51" stroke="#222" stroke-width="0.5"/>
<line x1="416.80" y1="476.45" x2="418.30" y2="476.45" stroke="#222" stroke-width="0.5"/>
<line x1="416.80" y1="509.76" x2="418.30" y2="509.76" stroke="#222" stroke-width="0.5"/>
<line x1="416.80" y1="506.34" x2="418.30" y2="506.34" stroke="#222" stroke-width="0.5"/>
<line x1="416.80" y1="503.92" x2="418.30" y2="503.92" stroke="#222" stroke-width="0.5"/>
<line x1="416.80" y1="502.04" x2="418.30" y2="502.04" stroke="#222" stroke-width="0.5"/>
<line x1="416.80" y1="500.50" x2="418.30" y2="500.50" stroke="#222" stroke-width="0.5"/>
<line x1="416.80" y1="499.21" x2="418.30" y2="499.21" stroke="#222" stroke-width="0.5"/>
<line x1="416.80" y1="498.08" x2="418.30" y2="498.08" stroke="#222" stroke-width="0.5"/>
<line x1="416.80" y1="497.09" x2="418.30" y2="497.09" stroke="#222" stroke-width="0.5"/>
<line x1="417.30" y1="513.00" x2="417.30" y2="526.50" stroke="#111" stroke-width="1.5"/>
<line x1="421.00" y1="533.60" x2="421.00" y2="535.20" stroke="#222" stroke-width="0.6"/>
<line x1="423.50" y1="533.60" x2="423.50" y2="535.20" stroke="#222" stroke-width="0.6"/>
<line x1="426.00" y1="533.60" x2="426.00" y2="535.20" stroke="#222" stroke-width="0.6"/>
<line x1="428.00" y1="533.60" x2="428.00" y2="535.20" stroke="#222" stroke-width="0.6"/>
<line x1="430.00" y1="533.60" x2="430.00" y2="535.20" stroke="#222" stroke-width="0.6"/>
<line x1="432.00" y1="533.60" x2="432.00" y2="535.20" stroke="#222" stroke-width="0.6"/>
<line x1="433.50" y1="533.60" x2="433.50" y2="535.20" stroke="#222" stroke-width="0.6"/>
<line x1="435.00" y1="533.60" x2="435.00" y2="535.20" stroke="#222" stroke-width="0.6"/>
<line x1="436.50" y1="533.60" x2="436.50" y2="535.20" stroke="#222" stroke-width="0.6"/>
<line x1="438.00" y1="533.60" x2="438.00" y2="535.20" stroke="#222" stroke-width="0.6"/>
<line x1="446.00" y1="533.60" x2="446.00" y2="535.20" stroke="#222" stroke-width="0.6"/>
<line x1="450.00" y1="533.60" x2="450.00" y2="535.20" stroke="#222" stroke-width="0.6"/>
<line x1="453.00" y1="533.60" x2="453.00" y2="535.20" stroke="#222" stroke-width="0.6"/>
<line x1="455.00" y1="533.60" x2="455.00" y2="535.20" stroke="#222" stroke-width="0.6"/>
<line x1="456.50" y1="533.60" x2="456.50" y2="535.20" stroke="#222" stroke-width="0.6"/>
<line x1="458.00" y1="533.60" x2="458.00" y2="535.20" stroke="#222" stroke-width="0.6"/>
<line x1="459.50" y1="533.60" x2="459.50" y2="535.20" stroke="#222" stroke-width="0.6"/>
<line x1="460.50" y1="533.60" x2="460.50" y2="535.20" stroke="#222" stroke-width="0.6"/>
<line x1="467.00" y1="533.60" x2="467.00" y2="535.20" stroke="#222" stroke-width="0.6"/>
<line x1="471.00" y1="533.60" x2="471.00" y2="535.20" stroke="#222" stroke-width="0.6"/>
<line x1="474.00" y1="533.60" x2="474.00" y2="535.20" stroke="#222" stroke-width="0.6"/>
<line x1="476.00" y1="533.60" x2="476.00" y2="535.20" stroke="#222" stroke-width="0.6"/>
<line x1="478.00" y1="533.60" x2="478.00" y2="535.20" stroke="#222" stroke-width="0.6"/>
<line x1="479.50" y1="533.60" x2="479.50" y2="535.20" stroke="#222" stroke-width="0.6"/>
<line x1="480.50" y1="533.60" x2="480.50" y2="535.20" stroke="#222" stroke-width="0.6"/>
<line x1="488.00" y1="533.60" x2="488.00" y2="535.20" stroke="#222" stroke-width="0.6"/>
<line x1="492.00" y1="533.60" x2="492.00" y2="535.20" stroke="#222" stroke-width="0.6"/>
<line x1="495.00" y1="533.60" x2="495.00" y2="535.20" stroke="#222" stroke-width="0.6"/>
<line x1="497.00" y1="533.60" x2="497.00" y2="535.20" stroke="#222" stroke-width="0.6"/>
<line x1="499.00" y1="533.60" x2="499.00" y2="535.20" stroke="#222" stroke-width="0.6"/>
<line x1="500.50" y1="533.60" x2="500.50" y2="535.20" stroke="#222" stroke-width="0.6"/>
<line x1="501.50" y1="533.60" x2="501.50" y2="535.20" stroke="#222" stroke-width="0.6"/>
<line x1="424.00" y1="533.60" x2="424.00" y2="536.40" stroke="#222" stroke-width="0.8"/>
<text x="422.30" y="545.00" font-size="6.1" text-anchor="start" fill="#111" stroke="#111" stroke-width="0.1" >0</text>
<line x1="438.40" y1="533.60" x2="438.40" y2="536.40" stroke="#222" stroke-width="0.8"/>
<text x="435.20" y="545.00" font-size="6.1" text-anchor="start" fill="#111" stroke="#111" stroke-width="0.1" >10<tspan dy="-2.4" font-size="4.2">2</tspan></text>
<line x1="459.50" y1="533.60" x2="459.50" y2="536.40" stroke="#222" stroke-width="0.8"/>
<text x="456.30" y="545.00" font-size="6.1" text-anchor="start" fill="#111" stroke="#111" stroke-width="0.1" >10<tspan dy="-2.4" font-size="4.2">3</tspan></text>
<line x1="479.50" y1="533.60" x2="479.50" y2="536.40" stroke="#222" stroke-width="0.8"/>
<text x="476.20" y="545.00" font-size="6.1" text-anchor="start" fill="#111" stroke="#111" stroke-width="0.1" >10<tspan dy="-2.4" font-size="4.2">4</tspan></text>
<line x1="499.50" y1="533.60" x2="499.50" y2="536.40" stroke="#222" stroke-width="0.8"/>
<text x="496.20" y="545.00" font-size="6.1" text-anchor="start" fill="#111" stroke="#111" stroke-width="0.1" >10<tspan dy="-2.4" font-size="4.2">5</tspan></text>
<line x1="396.10" y1="524.60" x2="396.10" y2="462.70" stroke="#555" stroke-width="1.2"/>
<path d="M392.8 465.00L395.9 457.70L399.0 465.00Z" fill="#111"/>
<text x="391.00" y="491.40" font-size="11.2" text-anchor="middle" fill="#111" textLength="18.8" lengthAdjust="spacingAndGlyphs" stroke="#111" stroke-width="0.1" transform="rotate(-90 391.00 491.40)" >CD31</text>
<text x="462.40" y="558.00" font-size="9.6" text-anchor="middle" fill="#111" textLength="84" lengthAdjust="spacingAndGlyphs" stroke="#111" stroke-width="0.1" >non-endosteal BM</text>
<rect x="418.30" y="561.60" width="93.90" height="90.50" fill="#f7f7f7"/>
<polygon points="424.8,612.3 426.5,606.0 431.1,603.3 435.6,600.5 440.1,596.8 446.5,595.8 453.0,598.6 456.9,602.2 458.2,608.8 457.1,616.1 455.1,621.3 456.6,626.7 457.5,636.0 456.7,643.6 453.1,646.4 438.3,646.9 433.7,643.5 432.9,635.9 434.3,624.7 431.5,623.1 427.7,620.5 425.4,617.8" fill="#050505" filter="url(#bl)"/>
<path d="M449.5 581.2h0.75v0.75h-0.75zM424.5 585.0h0.75v0.75h-0.75zM439.7 585.9h0.75v0.75h-0.75zM446.8 587.0h0.75v0.75h-0.75zM452.3 586.7h0.75v0.75h-0.75zM443.3 587.7h0.75v0.75h-0.75zM444.2 587.6h0.75v0.75h-0.75zM453.1 587.7h0.75v0.75h-0.75zM454.2 587.9h0.75v0.75h-0.75zM459.2 587.8h0.75v0.75h-0.75zM463.1 588.0h0.75v0.75h-0.75zM444.2 588.5h0.75v0.75h-0.75zM447.6 588.4h0.75v0.75h-0.75zM450.3 588.3h0.75v0.75h-0.75zM452.2 588.4h0.75v0.75h-0.75zM445.6 588.6h0.75v0.75h-0.75zM446.0 588.6h0.75v0.75h-0.75zM448.4 588.9h0.75v0.75h-0.75zM452.5 588.9h0.75v0.75h-0.75zM450.5 589.4h0.75v0.75h-0.75zM455.0 590.1h0.75v0.75h-0.75zM448.7 590.6h0.75v0.75h-0.75zM462.2 590.3h0.75v0.75h-0.75zM449.0 590.7h0.75v0.75h-0.75zM434.5 591.1h0.75v0.75h-0.75zM448.1 591.3h0.75v0.75h-0.75zM450.3 591.3h0.75v0.75h-0.75zM437.4 591.9h0.75v0.75h-0.75zM445.0 592.1h0.75v0.75h-0.75zM448.4 591.7h0.75v0.75h-0.75zM452.7 592.1h0.75v0.75h-0.75zM454.8 591.9h0.75v0.75h-0.75zM456.6 592.0h0.75v0.75h-0.75zM441.0 592.4h0.75v0.75h-0.75zM443.8 592.3h0.75v0.75h-0.75zM455.8 592.4h0.75v0.75h-0.75zM458.3 592.2h0.75v0.75h-0.75zM444.6 592.8h0.75v0.75h-0.75zM445.5 592.8h0.75v0.75h-0.75zM447.3 593.1h0.75v0.75h-0.75zM447.9 592.8h0.75v0.75h-0.75zM449.3 592.7h0.75v0.75h-0.75zM451.8 592.9h0.75v0.75h-0.75zM452.4 592.8h0.75v0.75h-0.75zM455.0 592.7h0.75v0.75h-0.75zM457.0 593.0h0.75v0.75h-0.75zM442.3 593.2h0.75v0.75h-0.75zM444.2 593.3h0.75v0.75h-0.75zM449.3 593.2h0.75v0.75h-0.75zM451.7 593.5h0.75v0.75h-0.75zM452.2 593.4h0.75v0.75h-0.75zM458.5 593.2h0.75v0.75h-0.75zM437.0 593.7h0.75v0.75h-0.75zM440.7 594.0h0.75v0.75h-0.75zM444.0 593.8h0.75v0.75h-0.75zM449.1 593.8h0.75v0.75h-0.75zM454.5 593.7h0.75v0.75h-0.75zM459.4 594.1h0.75v0.75h-0.75zM437.8 594.2h0.75v0.75h-0.75zM442.2 594.5h0.75v0.75h-0.75zM447.5 594.3h0.75v0.75h-0.75zM450.3 594.3h0.75v0.75h-0.75zM452.0 594.3h0.75v0.75h-0.75zM455.1 594.2h0.75v0.75h-0.75zM455.6 594.2h0.75v0.75h-0.75zM431.9 594.9h0.75v0.75h-0.75zM439.3 594.9h0.75v0.75h-0.75zM443.0 594.8h0.75v0.75h-0.75zM443.7 595.0h0.75v0.75h-0.75zM446.4 594.8h0.75v0.75h-0.75zM447.6 594.7h0.75v0.75h-0.75zM448.9 594.6h0.75v0.75h-0.75zM449.5 595.0h0.75v0.75h-0.75zM455.6 594.8h0.75v0.75h-0.75zM427.7 595.3h0.75v0.75h-0.75zM434.9 595.3h0.75v0.75h-0.75zM440.7 595.3h0.75v0.75h-0.75zM440.8 595.2h0.75v0.75h-0.75zM443.2 595.1h0.75v0.75h-0.75zM444.3 595.1h0.75v0.75h-0.75zM448.0 595.4h0.75v0.75h-0.75zM450.1 595.5h0.75v0.75h-0.75zM452.7 595.2h0.75v0.75h-0.75zM440.7 595.7h0.75v0.75h-0.75zM443.4 595.8h0.75v0.75h-0.75zM443.9 596.0h0.75v0.75h-0.75zM444.5 596.1h0.75v0.75h-0.75zM447.6 595.9h0.75v0.75h-0.75zM448.0 596.0h0.75v0.75h-0.75zM450.5 596.0h0.75v0.75h-0.75zM451.0 596.1h0.75v0.75h-0.75zM451.5 596.0h0.75v0.75h-0.75zM452.2 595.7h0.75v0.75h-0.75zM454.5 595.8h0.75v0.75h-0.75zM456.8 596.1h0.75v0.75h-0.75zM436.6 596.2h0.75v0.75h-0.75zM439.1 596.5h0.75v0.75h-0.75zM441.0 596.3h0.75v0.75h-0.75zM448.7 596.2h0.75v0.75h-0.75zM449.0 596.5h0.75v0.75h-0.75zM450.3 596.5h0.75v0.75h-0.75zM451.1 596.5h0.75v0.75h-0.75zM453.1 596.5h0.75v0.75h-0.75zM454.0 596.4h0.75v0.75h-0.75zM456.1 596.4h0.75v0.75h-0.75zM456.7 596.1h0.75v0.75h-0.75zM430.9 596.8h0.75v0.75h-0.75zM436.6 596.7h0.75v0.75h-0.75zM437.7 597.1h0.75v0.75h-0.75zM439.3 596.7h0.75v0.75h-0.75zM450.2 597.1h0.75v0.75h-0.75zM452.5 597.0h0.75v0.75h-0.75zM455.3 597.0h0.75v0.75h-0.75zM455.9 597.1h0.75v0.75h-0.75zM451.1 597.6h0.75v0.75h-0.75zM451.9 597.3h0.75v0.75h-0.75zM454.2 597.2h0.75v0.75h-0.75zM456.4 597.4h0.75v0.75h-0.75zM433.2 597.7h0.75v0.75h-0.75zM433.9 597.8h0.75v0.75h-0.75zM437.4 598.0h0.75v0.75h-0.75zM452.5 597.7h0.75v0.75h-0.75zM453.8 598.0h0.75v0.75h-0.75zM453.8 598.1h0.75v0.75h-0.75zM455.1 597.9h0.75v0.75h-0.75zM456.8 597.6h0.75v0.75h-0.75zM457.6 597.8h0.75v0.75h-0.75zM435.3 598.4h0.75v0.75h-0.75zM436.9 598.3h0.75v0.75h-0.75zM437.6 598.3h0.75v0.75h-0.75zM452.5 598.4h0.75v0.75h-0.75zM453.6 598.4h0.75v0.75h-0.75zM453.9 598.5h0.75v0.75h-0.75zM454.9 598.4h0.75v0.75h-0.75zM456.4 598.4h0.75v0.75h-0.75zM428.2 598.7h0.75v0.75h-0.75zM434.3 598.6h0.75v0.75h-0.75zM435.2 598.9h0.75v0.75h-0.75zM436.0 599.0h0.75v0.75h-0.75zM436.4 598.8h0.75v0.75h-0.75zM454.4 598.9h0.75v0.75h-0.75zM454.9 598.6h0.75v0.75h-0.75zM434.5 599.4h0.75v0.75h-0.75zM455.7 599.5h0.75v0.75h-0.75zM427.9 600.1h0.75v0.75h-0.75zM434.0 600.1h0.75v0.75h-0.75zM454.4 600.0h0.75v0.75h-0.75zM454.8 599.9h0.75v0.75h-0.75zM455.6 599.9h0.75v0.75h-0.75zM456.0 599.6h0.75v0.75h-0.75zM456.5 600.1h0.75v0.75h-0.75zM457.5 599.8h0.75v0.75h-0.75zM461.6 600.0h0.75v0.75h-0.75zM431.9 600.6h0.75v0.75h-0.75zM433.0 600.5h0.75v0.75h-0.75zM433.9 600.4h0.75v0.75h-0.75zM434.8 600.6h0.75v0.75h-0.75zM455.8 600.3h0.75v0.75h-0.75zM456.4 600.6h0.75v0.75h-0.75zM459.6 600.3h0.75v0.75h-0.75zM421.5 600.8h0.75v0.75h-0.75zM432.7 600.6h0.75v0.75h-0.75zM460.3 600.9h0.75v0.75h-0.75zM461.7 600.8h0.75v0.75h-0.75zM431.3 601.5h0.75v0.75h-0.75zM431.8 601.2h0.75v0.75h-0.75zM432.0 601.2h0.75v0.75h-0.75zM432.3 601.5h0.75v0.75h-0.75zM433.0 601.3h0.75v0.75h-0.75zM433.7 601.1h0.75v0.75h-0.75zM459.2 601.2h0.75v0.75h-0.75zM460.2 601.4h0.75v0.75h-0.75zM427.0 602.0h0.75v0.75h-0.75zM428.2 601.9h0.75v0.75h-0.75zM457.3 601.8h0.75v0.75h-0.75zM459.3 601.8h0.75v0.75h-0.75zM424.8 602.3h0.75v0.75h-0.75zM428.4 602.4h0.75v0.75h-0.75zM430.8 602.2h0.75v0.75h-0.75zM431.2 602.2h0.75v0.75h-0.75zM431.4 602.3h0.75v0.75h-0.75zM432.3 602.1h0.75v0.75h-0.75zM457.5 602.4h0.75v0.75h-0.75zM458.7 602.1h0.75v0.75h-0.75zM459.2 602.3h0.75v0.75h-0.75zM457.9 602.9h0.75v0.75h-0.75zM458.6 602.6h0.75v0.75h-0.75zM458.9 603.1h0.75v0.75h-0.75zM461.5 602.6h0.75v0.75h-0.75zM425.8 603.4h0.75v0.75h-0.75zM429.2 603.4h0.75v0.75h-0.75zM429.5 603.4h0.75v0.75h-0.75zM424.1 603.9h0.75v0.75h-0.75zM426.2 603.6h0.75v0.75h-0.75zM427.4 604.0h0.75v0.75h-0.75zM428.6 603.9h0.75v0.75h-0.75zM429.2 604.1h0.75v0.75h-0.75zM429.7 604.1h0.75v0.75h-0.75zM457.7 603.8h0.75v0.75h-0.75zM458.9 603.8h0.75v0.75h-0.75zM462.5 603.8h0.75v0.75h-0.75zM427.7 604.4h0.75v0.75h-0.75zM428.1 604.5h0.75v0.75h-0.75zM459.0 604.2h0.75v0.75h-0.75zM460.1 604.5h0.75v0.75h-0.75zM424.7 605.1h0.75v0.75h-0.75zM427.1 604.9h0.75v0.75h-0.75zM459.7 605.0h0.75v0.75h-0.75zM459.9 604.6h0.75v0.75h-0.75zM420.8 605.5h0.75v0.75h-0.75zM425.5 605.2h0.75v0.75h-0.75zM426.7 605.2h0.75v0.75h-0.75zM458.0 605.6h0.75v0.75h-0.75zM459.4 605.6h0.75v0.75h-0.75zM467.0 605.1h0.75v0.75h-0.75zM457.9 605.8h0.75v0.75h-0.75zM458.4 606.0h0.75v0.75h-0.75zM459.1 605.9h0.75v0.75h-0.75zM460.9 606.0h0.75v0.75h-0.75zM425.3 606.2h0.75v0.75h-0.75zM458.6 606.4h0.75v0.75h-0.75zM463.5 606.3h0.75v0.75h-0.75zM459.6 606.6h0.75v0.75h-0.75zM464.1 607.9h0.75v0.75h-0.75zM420.2 608.4h0.75v0.75h-0.75zM459.0 608.6h0.75v0.75h-0.75zM459.3 608.2h0.75v0.75h-0.75zM460.5 608.1h0.75v0.75h-0.75zM463.5 608.2h0.75v0.75h-0.75zM425.1 608.7h0.75v0.75h-0.75zM458.7 609.0h0.75v0.75h-0.75zM458.8 608.9h0.75v0.75h-0.75zM459.7 609.0h0.75v0.75h-0.75zM460.0 608.9h0.75v0.75h-0.75zM460.8 609.1h0.75v0.75h-0.75zM459.4 609.4h0.75v0.75h-0.75zM461.6 609.4h0.75v0.75h-0.75zM424.5 609.8h0.75v0.75h-0.75zM466.3 609.6h0.75v0.75h-0.75zM423.4 610.3h0.75v0.75h-0.75zM422.1 611.1h0.75v0.75h-0.75zM425.1 610.8h0.75v0.75h-0.75zM457.9 610.8h0.75v0.75h-0.75zM459.1 610.7h0.75v0.75h-0.75zM459.5 610.7h0.75v0.75h-0.75zM460.5 611.0h0.75v0.75h-0.75zM466.6 610.9h0.75v0.75h-0.75zM422.1 611.5h0.75v0.75h-0.75zM423.6 611.4h0.75v0.75h-0.75zM424.5 611.1h0.75v0.75h-0.75zM458.8 611.6h0.75v0.75h-0.75zM477.2 611.6h0.75v0.75h-0.75zM420.6 612.6h0.75v0.75h-0.75zM421.1 612.5h0.75v0.75h-0.75zM423.3 612.5h0.75v0.75h-0.75zM423.8 612.6h0.75v0.75h-0.75zM461.0 612.6h0.75v0.75h-0.75zM422.6 612.6h0.75v0.75h-0.75zM424.2 613.6h0.75v0.75h-0.75zM458.1 613.3h0.75v0.75h-0.75zM460.3 613.6h0.75v0.75h-0.75zM458.4 614.3h0.75v0.75h-0.75zM457.6 614.8h0.75v0.75h-0.75zM424.9 615.1h0.75v0.75h-0.75zM457.3 615.2h0.75v0.75h-0.75zM458.4 615.2h0.75v0.75h-0.75zM459.3 615.2h0.75v0.75h-0.75zM464.9 615.4h0.75v0.75h-0.75zM425.1 616.8h0.75v0.75h-0.75zM464.9 616.7h0.75v0.75h-0.75zM424.7 617.1h0.75v0.75h-0.75zM457.0 617.3h0.75v0.75h-0.75zM459.1 617.4h0.75v0.75h-0.75zM459.5 617.1h0.75v0.75h-0.75zM457.3 617.6h0.75v0.75h-0.75zM458.0 617.6h0.75v0.75h-0.75zM423.9 618.6h0.75v0.75h-0.75zM458.8 618.3h0.75v0.75h-0.75zM460.9 618.4h0.75v0.75h-0.75zM421.2 618.8h0.75v0.75h-0.75zM423.0 618.7h0.75v0.75h-0.75zM423.8 618.7h0.75v0.75h-0.75zM424.6 619.0h0.75v0.75h-0.75zM425.9 618.8h0.75v0.75h-0.75zM458.2 618.7h0.75v0.75h-0.75zM462.7 618.7h0.75v0.75h-0.75zM423.4 619.5h0.75v0.75h-0.75zM424.0 619.4h0.75v0.75h-0.75zM425.5 619.2h0.75v0.75h-0.75zM426.0 619.6h0.75v0.75h-0.75zM456.5 619.4h0.75v0.75h-0.75zM424.9 619.6h0.75v0.75h-0.75zM458.6 619.7h0.75v0.75h-0.75zM420.2 620.2h0.75v0.75h-0.75zM423.5 620.1h0.75v0.75h-0.75zM426.8 620.1h0.75v0.75h-0.75zM427.3 620.6h0.75v0.75h-0.75zM467.5 620.4h0.75v0.75h-0.75zM420.4 620.8h0.75v0.75h-0.75zM426.1 620.8h0.75v0.75h-0.75zM426.4 620.8h0.75v0.75h-0.75zM456.1 620.9h0.75v0.75h-0.75zM456.7 621.0h0.75v0.75h-0.75zM457.7 620.8h0.75v0.75h-0.75zM475.7 621.0h0.75v0.75h-0.75zM426.6 621.2h0.75v0.75h-0.75zM455.7 621.4h0.75v0.75h-0.75zM419.8 622.1h0.75v0.75h-0.75zM424.9 621.7h0.75v0.75h-0.75zM426.9 621.8h0.75v0.75h-0.75zM429.0 621.7h0.75v0.75h-0.75zM423.5 622.4h0.75v0.75h-0.75zM427.5 622.2h0.75v0.75h-0.75zM427.9 622.1h0.75v0.75h-0.75zM456.0 622.2h0.75v0.75h-0.75zM427.0 622.8h0.75v0.75h-0.75zM430.0 622.9h0.75v0.75h-0.75zM430.5 623.1h0.75v0.75h-0.75zM456.1 623.1h0.75v0.75h-0.75zM456.9 623.0h0.75v0.75h-0.75zM429.9 623.6h0.75v0.75h-0.75zM456.2 623.5h0.75v0.75h-0.75zM428.3 624.0h0.75v0.75h-0.75zM430.2 623.9h0.75v0.75h-0.75zM428.2 624.3h0.75v0.75h-0.75zM459.4 624.6h0.75v0.75h-0.75zM420.4 625.0h0.75v0.75h-0.75zM430.4 625.1h0.75v0.75h-0.75zM430.5 625.5h0.75v0.75h-0.75zM432.5 625.2h0.75v0.75h-0.75zM433.8 625.3h0.75v0.75h-0.75zM426.8 625.9h0.75v0.75h-0.75zM433.6 626.1h0.75v0.75h-0.75zM434.2 626.0h0.75v0.75h-0.75zM456.5 625.9h0.75v0.75h-0.75zM457.2 625.7h0.75v0.75h-0.75zM423.5 626.1h0.75v0.75h-0.75zM429.4 626.6h0.75v0.75h-0.75zM433.9 626.4h0.75v0.75h-0.75zM457.6 626.3h0.75v0.75h-0.75zM458.2 626.3h0.75v0.75h-0.75zM459.0 626.4h0.75v0.75h-0.75zM432.7 627.0h0.75v0.75h-0.75zM456.9 626.8h0.75v0.75h-0.75zM458.1 627.0h0.75v0.75h-0.75zM430.6 627.4h0.75v0.75h-0.75zM432.4 627.2h0.75v0.75h-0.75zM457.5 627.5h0.75v0.75h-0.75zM419.7 627.9h0.75v0.75h-0.75zM433.3 628.0h0.75v0.75h-0.75zM427.5 628.4h0.75v0.75h-0.75zM430.0 628.5h0.75v0.75h-0.75zM432.1 628.5h0.75v0.75h-0.75zM457.0 628.2h0.75v0.75h-0.75zM432.6 628.8h0.75v0.75h-0.75zM433.2 628.8h0.75v0.75h-0.75zM430.5 629.2h0.75v0.75h-0.75zM457.4 629.2h0.75v0.75h-0.75zM458.8 629.1h0.75v0.75h-0.75zM459.9 629.4h0.75v0.75h-0.75zM432.8 629.8h0.75v0.75h-0.75zM432.9 629.9h0.75v0.75h-0.75zM457.7 629.8h0.75v0.75h-0.75zM460.8 629.8h0.75v0.75h-0.75zM430.4 630.4h0.75v0.75h-0.75zM426.3 630.6h0.75v0.75h-0.75zM428.0 631.1h0.75v0.75h-0.75zM433.0 631.5h0.75v0.75h-0.75zM430.9 631.6h0.75v0.75h-0.75zM458.8 631.7h0.75v0.75h-0.75zM419.1 632.6h0.75v0.75h-0.75zM429.1 632.1h0.75v0.75h-0.75zM429.8 632.5h0.75v0.75h-0.75zM430.6 632.3h0.75v0.75h-0.75zM433.2 632.4h0.75v0.75h-0.75zM457.4 632.3h0.75v0.75h-0.75zM458.4 632.4h0.75v0.75h-0.75zM426.1 632.8h0.75v0.75h-0.75zM432.6 633.0h0.75v0.75h-0.75zM457.4 632.9h0.75v0.75h-0.75zM458.7 632.8h0.75v0.75h-0.75zM459.3 633.0h0.75v0.75h-0.75zM475.9 632.6h0.75v0.75h-0.75zM426.6 633.2h0.75v0.75h-0.75zM432.2 633.3h0.75v0.75h-0.75zM421.6 633.6h0.75v0.75h-0.75zM422.1 633.9h0.75v0.75h-0.75zM429.2 634.1h0.75v0.75h-0.75zM430.8 634.0h0.75v0.75h-0.75zM458.2 633.6h0.75v0.75h-0.75zM458.6 633.8h0.75v0.75h-0.75zM458.9 633.6h0.75v0.75h-0.75zM423.1 634.5h0.75v0.75h-0.75zM458.2 634.3h0.75v0.75h-0.75zM463.4 634.1h0.75v0.75h-0.75zM421.0 635.0h0.75v0.75h-0.75zM428.0 635.0h0.75v0.75h-0.75zM461.4 635.0h0.75v0.75h-0.75zM476.8 635.0h0.75v0.75h-0.75zM424.9 635.2h0.75v0.75h-0.75zM427.5 635.2h0.75v0.75h-0.75zM432.6 635.3h0.75v0.75h-0.75zM461.3 635.1h0.75v0.75h-0.75zM463.5 635.3h0.75v0.75h-0.75zM429.3 636.1h0.75v0.75h-0.75zM432.3 636.1h0.75v0.75h-0.75zM460.5 635.7h0.75v0.75h-0.75zM420.9 636.5h0.75v0.75h-0.75zM428.5 636.2h0.75v0.75h-0.75zM432.1 636.5h0.75v0.75h-0.75zM432.7 636.3h0.75v0.75h-0.75zM458.1 636.5h0.75v0.75h-0.75zM458.3 636.5h0.75v0.75h-0.75zM459.9 636.2h0.75v0.75h-0.75zM429.0 636.6h0.75v0.75h-0.75zM432.7 636.9h0.75v0.75h-0.75zM425.7 637.3h0.75v0.75h-0.75zM426.4 637.3h0.75v0.75h-0.75zM432.1 637.4h0.75v0.75h-0.75zM427.3 637.9h0.75v0.75h-0.75zM457.9 637.9h0.75v0.75h-0.75zM462.2 637.8h0.75v0.75h-0.75zM463.7 638.0h0.75v0.75h-0.75zM426.1 638.2h0.75v0.75h-0.75zM430.0 638.3h0.75v0.75h-0.75zM429.0 639.0h0.75v0.75h-0.75zM431.5 639.1h0.75v0.75h-0.75zM459.5 638.7h0.75v0.75h-0.75zM431.0 639.1h0.75v0.75h-0.75zM431.4 639.2h0.75v0.75h-0.75zM432.5 639.3h0.75v0.75h-0.75zM458.2 639.3h0.75v0.75h-0.75zM458.6 639.5h0.75v0.75h-0.75zM422.0 639.6h0.75v0.75h-0.75zM423.4 640.1h0.75v0.75h-0.75zM428.5 640.5h0.75v0.75h-0.75zM431.7 640.5h0.75v0.75h-0.75zM458.3 640.1h0.75v0.75h-0.75zM459.2 640.2h0.75v0.75h-0.75zM462.2 640.4h0.75v0.75h-0.75zM432.0 640.6h0.75v0.75h-0.75zM432.8 641.1h0.75v0.75h-0.75zM424.8 641.2h0.75v0.75h-0.75zM430.4 641.1h0.75v0.75h-0.75zM457.7 641.4h0.75v0.75h-0.75zM457.9 641.5h0.75v0.75h-0.75zM458.7 641.4h0.75v0.75h-0.75zM462.1 641.4h0.75v0.75h-0.75zM422.4 642.1h0.75v0.75h-0.75zM428.0 641.7h0.75v0.75h-0.75zM457.3 642.1h0.75v0.75h-0.75zM467.5 642.1h0.75v0.75h-0.75zM428.3 642.5h0.75v0.75h-0.75zM432.7 642.4h0.75v0.75h-0.75zM457.2 642.2h0.75v0.75h-0.75zM458.5 642.3h0.75v0.75h-0.75zM431.5 643.1h0.75v0.75h-0.75zM458.0 643.1h0.75v0.75h-0.75zM427.6 643.1h0.75v0.75h-0.75zM429.9 643.5h0.75v0.75h-0.75zM430.4 643.3h0.75v0.75h-0.75zM456.9 643.4h0.75v0.75h-0.75zM434.0 644.2h0.75v0.75h-0.75zM457.4 644.3h0.75v0.75h-0.75zM428.5 644.6h0.75v0.75h-0.75zM430.5 644.8h0.75v0.75h-0.75zM433.5 645.0h0.75v0.75h-0.75zM455.6 645.0h0.75v0.75h-0.75zM456.7 644.8h0.75v0.75h-0.75zM458.2 644.7h0.75v0.75h-0.75zM458.4 645.0h0.75v0.75h-0.75zM431.2 645.3h0.75v0.75h-0.75zM432.1 645.4h0.75v0.75h-0.75zM455.0 645.4h0.75v0.75h-0.75zM457.7 645.4h0.75v0.75h-0.75zM432.9 645.6h0.75v0.75h-0.75zM435.9 645.6h0.75v0.75h-0.75zM456.1 645.7h0.75v0.75h-0.75zM430.2 646.1h0.75v0.75h-0.75zM432.0 646.2h0.75v0.75h-0.75zM432.7 646.1h0.75v0.75h-0.75zM435.3 646.5h0.75v0.75h-0.75zM455.0 646.5h0.75v0.75h-0.75zM457.4 646.5h0.75v0.75h-0.75zM432.0 646.7h0.75v0.75h-0.75zM447.8 646.7h0.75v0.75h-0.75zM448.4 646.8h0.75v0.75h-0.75zM449.3 647.0h0.75v0.75h-0.75zM450.1 646.9h0.75v0.75h-0.75zM451.3 646.7h0.75v0.75h-0.75zM452.9 647.0h0.75v0.75h-0.75zM460.3 647.0h0.75v0.75h-0.75zM431.9 647.3h0.75v0.75h-0.75zM436.5 647.4h0.75v0.75h-0.75zM438.1 647.3h0.75v0.75h-0.75zM441.5 647.2h0.75v0.75h-0.75zM442.1 647.3h0.75v0.75h-0.75zM443.6 647.6h0.75v0.75h-0.75zM445.7 647.2h0.75v0.75h-0.75zM447.6 647.1h0.75v0.75h-0.75zM452.0 647.5h0.75v0.75h-0.75zM455.7 647.4h0.75v0.75h-0.75zM434.7 647.9h0.75v0.75h-0.75zM436.2 647.8h0.75v0.75h-0.75zM439.8 648.0h0.75v0.75h-0.75zM441.8 647.7h0.75v0.75h-0.75zM441.9 647.8h0.75v0.75h-0.75zM443.1 647.9h0.75v0.75h-0.75zM443.7 647.7h0.75v0.75h-0.75zM445.4 647.7h0.75v0.75h-0.75zM447.2 647.6h0.75v0.75h-0.75zM452.4 648.0h0.75v0.75h-0.75zM453.3 647.6h0.75v0.75h-0.75zM454.9 647.8h0.75v0.75h-0.75zM427.9 648.6h0.75v0.75h-0.75zM433.9 648.4h0.75v0.75h-0.75zM440.8 648.3h0.75v0.75h-0.75zM442.0 648.2h0.75v0.75h-0.75zM442.9 648.4h0.75v0.75h-0.75zM449.7 648.5h0.75v0.75h-0.75zM454.9 648.2h0.75v0.75h-0.75zM436.8 649.0h0.75v0.75h-0.75zM440.6 648.8h0.75v0.75h-0.75zM445.6 648.9h0.75v0.75h-0.75zM447.1 649.1h0.75v0.75h-0.75zM451.2 649.0h0.75v0.75h-0.75zM439.5 649.2h0.75v0.75h-0.75zM440.2 649.5h0.75v0.75h-0.75zM444.4 649.4h0.75v0.75h-0.75zM445.7 649.6h0.75v0.75h-0.75zM445.8 649.1h0.75v0.75h-0.75zM446.6 649.4h0.75v0.75h-0.75zM447.4 649.2h0.75v0.75h-0.75zM422.9 649.6h0.75v0.75h-0.75zM439.5 649.8h0.75v0.75h-0.75zM440.6 649.9h0.75v0.75h-0.75zM446.3 649.8h0.75v0.75h-0.75zM439.4 650.3h0.75v0.75h-0.75zM441.7 650.2h0.75v0.75h-0.75z" fill="#222"/>
<line x1="461.50" y1="561.60" x2="461.50" y2="652.10" stroke="#3c3c3c" stroke-width="0.9"/>
<line x1="482.30" y1="561.60" x2="482.30" y2="652.10" stroke="#3c3c3c" stroke-width="0.9"/>
<rect x="418.30" y="561.60" width="93.90" height="90.50" fill="none" stroke="#222" stroke-width="1"/>
<text x="437.50" y="573.80" font-size="6.3" text-anchor="middle" fill="#111" font-weight="bold" >GFP-</text>
<text x="438.50" y="582.00" font-size="6.3" text-anchor="middle" fill="#111" font-weight="bold" >99.9 %</text>
<text x="471.50" y="573.80" font-size="6.3" text-anchor="middle" fill="#111" font-weight="bold" >GFP<tspan dy="-2" font-size="3.8">lo</tspan></text>
<text x="470.50" y="582.00" font-size="6.3" text-anchor="middle" fill="#111" font-weight="bold" >0.1 %</text>
<text x="498.50" y="573.80" font-size="6.3" text-anchor="middle" fill="#111" font-weight="bold" >GFP<tspan dy="-2" font-size="3.8">hi</tspan></text>
<text x="501.00" y="582.00" font-size="6.3" text-anchor="middle" fill="#111" font-weight="bold" >0 %</text>
<text x="412.30" y="572.50" font-size="6.1" text-anchor="end" fill="#111" stroke="#111" stroke-width="0.1" >10<tspan dy="-2.4" font-size="4.2">5</tspan></text>
<text x="412.30" y="593.20" font-size="6.1" text-anchor="end" fill="#111" stroke="#111" stroke-width="0.1" >10<tspan dy="-2.4" font-size="4.2">4</tspan></text>
<text x="412.30" y="614.70" font-size="6.1" text-anchor="end" fill="#111" stroke="#111" stroke-width="0.1" >10<tspan dy="-2.4" font-size="4.2">3</tspan></text>
<text x="412.30" y="634.10" font-size="6.1" text-anchor="end" fill="#111" stroke="#111" stroke-width="0.1" >10<tspan dy="-2.4" font-size="4.2">2</tspan></text>
<text x="412.30" y="640.30" font-size="6.1" text-anchor="end" fill="#111" stroke="#111" stroke-width="0.1" >0</text>
<text x="412.30" y="646.60" font-size="6.1" text-anchor="end" fill="#111" stroke="#111" stroke-width="0.1" >-10<tspan dy="-2.4" font-size="4.2">2</tspan></text>
<line x1="415.50" y1="570.40" x2="418.30" y2="570.40" stroke="#222" stroke-width="0.8"/>
<line x1="415.50" y1="590.50" x2="418.30" y2="590.50" stroke="#222" stroke-width="0.8"/>
<line x1="415.50" y1="612.40" x2="418.30" y2="612.40" stroke="#222" stroke-width="0.8"/>
<line x1="415.50" y1="633.00" x2="418.30" y2="633.00" stroke="#222" stroke-width="0.8"/>
<line x1="415.50" y1="637.50" x2="418.30" y2="637.50" stroke="#222" stroke-width="0.8"/>
<line x1="415.50" y1="643.80" x2="418.30" y2="643.80" stroke="#222" stroke-width="0.8"/>
<line x1="416.80" y1="584.45" x2="418.30" y2="584.45" stroke="#222" stroke-width="0.5"/>
<line x1="416.80" y1="580.91" x2="418.30" y2="580.91" stroke="#222" stroke-width="0.5"/>
<line x1="416.80" y1="578.40" x2="418.30" y2="578.40" stroke="#222" stroke-width="0.5"/>
<line x1="416.80" y1="576.45" x2="418.30" y2="576.45" stroke="#222" stroke-width="0.5"/>
<line x1="416.80" y1="574.86" x2="418.30" y2="574.86" stroke="#222" stroke-width="0.5"/>
<line x1="416.80" y1="573.51" x2="418.30" y2="573.51" stroke="#222" stroke-width="0.5"/>
<line x1="416.80" y1="572.35" x2="418.30" y2="572.35" stroke="#222" stroke-width="0.5"/>
<line x1="416.80" y1="571.32" x2="418.30" y2="571.32" stroke="#222" stroke-width="0.5"/>
<line x1="416.80" y1="605.81" x2="418.30" y2="605.81" stroke="#222" stroke-width="0.5"/>
<line x1="416.80" y1="601.95" x2="418.30" y2="601.95" stroke="#222" stroke-width="0.5"/>
<line x1="416.80" y1="599.21" x2="418.30" y2="599.21" stroke="#222" stroke-width="0.5"/>
<line x1="416.80" y1="597.09" x2="418.30" y2="597.09" stroke="#222" stroke-width="0.5"/>
<line x1="416.80" y1="595.36" x2="418.30" y2="595.36" stroke="#222" stroke-width="0.5"/>
<line x1="416.80" y1="593.89" x2="418.30" y2="593.89" stroke="#222" stroke-width="0.5"/>
<line x1="416.80" y1="592.62" x2="418.30" y2="592.62" stroke="#222" stroke-width="0.5"/>
<line x1="416.80" y1="591.50" x2="418.30" y2="591.50" stroke="#222" stroke-width="0.5"/>
<line x1="416.80" y1="626.80" x2="418.30" y2="626.80" stroke="#222" stroke-width="0.5"/>
<line x1="416.80" y1="623.17" x2="418.30" y2="623.17" stroke="#222" stroke-width="0.5"/>
<line x1="416.80" y1="620.60" x2="418.30" y2="620.60" stroke="#222" stroke-width="0.5"/>
<line x1="416.80" y1="618.60" x2="418.30" y2="618.60" stroke="#222" stroke-width="0.5"/>
<line x1="416.80" y1="616.97" x2="418.30" y2="616.97" stroke="#222" stroke-width="0.5"/>
<line x1="416.80" y1="615.59" x2="418.30" y2="615.59" stroke="#222" stroke-width="0.5"/>
<line x1="416.80" y1="614.40" x2="418.30" y2="614.40" stroke="#222" stroke-width="0.5"/>
<line x1="416.80" y1="613.34" x2="418.30" y2="613.34" stroke="#222" stroke-width="0.5"/>
<line x1="417.30" y1="630.00" x2="417.30" y2="645.00" stroke="#111" stroke-width="1.5"/>
<line x1="421.00" y1="652.10" x2="421.00" y2="653.70" stroke="#222" stroke-width="0.6"/>
<line x1="423.50" y1="652.10" x2="423.50" y2="653.70" stroke="#222" stroke-width="0.6"/>
<line x1="426.00" y1="652.10" x2="426.00" y2="653.70" stroke="#222" stroke-width="0.6"/>
<line x1="428.00" y1="652.10" x2="428.00" y2="653.70" stroke="#222" stroke-width="0.6"/>
<line x1="430.00" y1="652.10" x2="430.00" y2="653.70" stroke="#222" stroke-width="0.6"/>
<line x1="432.00" y1="652.10" x2="432.00" y2="653.70" stroke="#222" stroke-width="0.6"/>
<line x1="433.50" y1="652.10" x2="433.50" y2="653.70" stroke="#222" stroke-width="0.6"/>
<line x1="435.00" y1="652.10" x2="435.00" y2="653.70" stroke="#222" stroke-width="0.6"/>
<line x1="436.50" y1="652.10" x2="436.50" y2="653.70" stroke="#222" stroke-width="0.6"/>
<line x1="438.00" y1="652.10" x2="438.00" y2="653.70" stroke="#222" stroke-width="0.6"/>
<line x1="446.00" y1="652.10" x2="446.00" y2="653.70" stroke="#222" stroke-width="0.6"/>
<line x1="450.00" y1="652.10" x2="450.00" y2="653.70" stroke="#222" stroke-width="0.6"/>
<line x1="453.00" y1="652.10" x2="453.00" y2="653.70" stroke="#222" stroke-width="0.6"/>
<line x1="455.00" y1="652.10" x2="455.00" y2="653.70" stroke="#222" stroke-width="0.6"/>
<line x1="456.50" y1="652.10" x2="456.50" y2="653.70" stroke="#222" stroke-width="0.6"/>
<line x1="458.00" y1="652.10" x2="458.00" y2="653.70" stroke="#222" stroke-width="0.6"/>
<line x1="459.50" y1="652.10" x2="459.50" y2="653.70" stroke="#222" stroke-width="0.6"/>
<line x1="460.50" y1="652.10" x2="460.50" y2="653.70" stroke="#222" stroke-width="0.6"/>
<line x1="467.00" y1="652.10" x2="467.00" y2="653.70" stroke="#222" stroke-width="0.6"/>
<line x1="471.00" y1="652.10" x2="471.00" y2="653.70" stroke="#222" stroke-width="0.6"/>
<line x1="474.00" y1="652.10" x2="474.00" y2="653.70" stroke="#222" stroke-width="0.6"/>
<line x1="476.00" y1="652.10" x2="476.00" y2="653.70" stroke="#222" stroke-width="0.6"/>
<line x1="478.00" y1="652.10" x2="478.00" y2="653.70" stroke="#222" stroke-width="0.6"/>
<line x1="479.50" y1="652.10" x2="479.50" y2="653.70" stroke="#222" stroke-width="0.6"/>
<line x1="480.50" y1="652.10" x2="480.50" y2="653.70" stroke="#222" stroke-width="0.6"/>
<line x1="488.00" y1="652.10" x2="488.00" y2="653.70" stroke="#222" stroke-width="0.6"/>
<line x1="492.00" y1="652.10" x2="492.00" y2="653.70" stroke="#222" stroke-width="0.6"/>
<line x1="495.00" y1="652.10" x2="495.00" y2="653.70" stroke="#222" stroke-width="0.6"/>
<line x1="497.00" y1="652.10" x2="497.00" y2="653.70" stroke="#222" stroke-width="0.6"/>
<line x1="499.00" y1="652.10" x2="499.00" y2="653.70" stroke="#222" stroke-width="0.6"/>
<line x1="500.50" y1="652.10" x2="500.50" y2="653.70" stroke="#222" stroke-width="0.6"/>
<line x1="501.50" y1="652.10" x2="501.50" y2="653.70" stroke="#222" stroke-width="0.6"/>
<line x1="424.20" y1="652.10" x2="424.20" y2="654.90" stroke="#222" stroke-width="0.8"/>
<text x="422.60" y="664.00" font-size="6.1" text-anchor="start" fill="#111" stroke="#111" stroke-width="0.1" >0</text>
<line x1="438.80" y1="652.10" x2="438.80" y2="654.90" stroke="#222" stroke-width="0.8"/>
<text x="435.60" y="664.00" font-size="6.1" text-anchor="start" fill="#111" stroke="#111" stroke-width="0.1" >10<tspan dy="-2.4" font-size="4.2">2</tspan></text>
<line x1="460.20" y1="652.10" x2="460.20" y2="654.90" stroke="#222" stroke-width="0.8"/>
<text x="456.90" y="664.00" font-size="6.1" text-anchor="start" fill="#111" stroke="#111" stroke-width="0.1" >10<tspan dy="-2.4" font-size="4.2">3</tspan></text>
<line x1="481.20" y1="652.10" x2="481.20" y2="654.90" stroke="#222" stroke-width="0.8"/>
<text x="477.60" y="664.00" font-size="6.1" text-anchor="start" fill="#111" stroke="#111" stroke-width="0.1" >10<tspan dy="-2.4" font-size="4.2">4</tspan></text>
<line x1="502.00" y1="652.10" x2="502.00" y2="654.90" stroke="#222" stroke-width="0.8"/>
<text x="498.60" y="664.00" font-size="6.1" text-anchor="start" fill="#111" stroke="#111" stroke-width="0.1" >10<tspan dy="-2.4" font-size="4.2">5</tspan></text>
<line x1="396.10" y1="641.20" x2="396.10" y2="580.20" stroke="#555" stroke-width="1.2"/>
<path d="M392.8 582.50L395.9 575.20L399.0 582.50Z" fill="#111"/>
<text x="391.00" y="607.70" font-size="11.2" text-anchor="middle" fill="#111" textLength="18.8" lengthAdjust="spacingAndGlyphs" stroke="#111" stroke-width="0.1" transform="rotate(-90 391.00 607.70)" >CD31</text>
<line x1="433.80" y1="667.50" x2="492.00" y2="667.50" stroke="#111" stroke-width="1.5"/>
<path d="M489 664.3L497 667.5L489 670.7Z" fill="#111"/>
<text x="460.50" y="677.50" font-size="11" text-anchor="middle" fill="#111" textLength="30.2" lengthAdjust="spacingAndGlyphs" stroke="#111" stroke-width="0.1" >Nes-GFP</text>
<rect x="0.5" y="0.5" width="519" height="686" fill="none" stroke="#000" stroke-width="1.3"/>
</svg>
</body></html>
